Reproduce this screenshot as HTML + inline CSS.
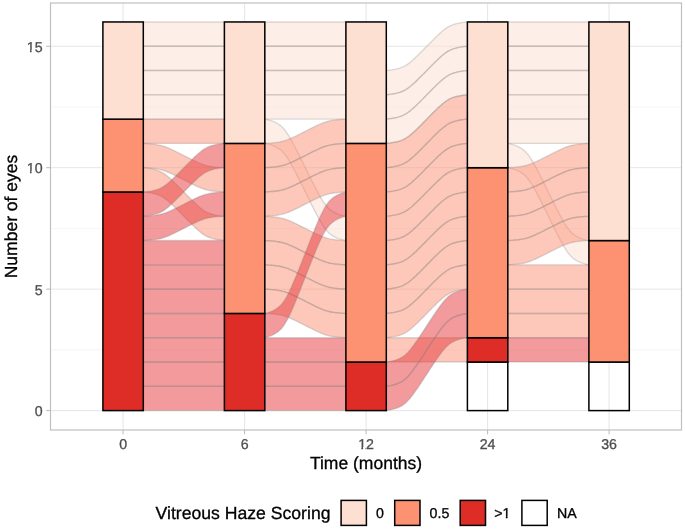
<!DOCTYPE html><html><head><meta charset="utf-8"><style>
html,body{margin:0;padding:0;background:#fff;}
svg{display:block;font-family:"Liberation Sans",sans-serif;will-change:transform;filter:blur(0.4px);}
text{stroke-width:0.3px;paint-order:stroke;text-rendering:geometricPrecision;}
</style></head><body>
<svg width="685" height="531" viewBox="0 0 685 531">
<rect width="685" height="531" fill="#fff"/>
<path d="M50.5 349.88H681.5M50.5 228.43H681.5M50.5 106.98H681.5" stroke="#EEEEEE" stroke-width="0.6" fill="none"/>
<path d="M50.5 410.60H681.5M50.5 289.15H681.5M50.5 167.70H681.5M50.5 46.25H681.5M123.10 3.0V430.0M244.60 3.0V430.0M366.10 3.0V430.0M487.60 3.0V430.0M609.10 3.0V430.0" stroke="#E3E3E3" stroke-width="0.9" fill="none"/>
<path d="M143.30 46.25H224.40V21.96H143.30Z" fill="#FEDED2" fill-opacity="0.50" stroke="#808080" stroke-opacity="0.28" stroke-width="1.40"/>
<path d="M143.30 70.54H224.40V46.25H143.30Z" fill="#FEDED2" fill-opacity="0.50" stroke="#808080" stroke-opacity="0.28" stroke-width="1.40"/>
<path d="M143.30 94.83H224.40V70.54H143.30Z" fill="#FEDED2" fill-opacity="0.50" stroke="#808080" stroke-opacity="0.28" stroke-width="1.40"/>
<path d="M143.30 119.12H224.40V94.83H143.30Z" fill="#FEDED2" fill-opacity="0.50" stroke="#808080" stroke-opacity="0.28" stroke-width="1.40"/>
<path d="M143.30 143.41H224.40V119.12H143.30Z" fill="#FB8F74" fill-opacity="0.50" stroke="#808080" stroke-opacity="0.28" stroke-width="1.40"/>
<path d="M143.30 167.70 143.31 167.70 143.39 167.70 143.60 167.71 143.97 167.73 144.54 167.76 145.31 167.80 146.27 167.86 147.39 167.93 148.64 168.02 149.96 168.13 151.34 168.26 152.72 168.40 154.08 168.55 155.41 168.73 156.69 168.92 157.93 169.13 159.11 169.36 160.26 169.61 161.38 169.89 162.49 170.19 163.58 170.53 164.69 170.90 165.81 171.30 166.95 171.75 168.13 172.23 169.35 172.75 170.61 173.31 171.92 173.92 173.27 174.56 174.68 175.23 176.13 175.94 177.62 176.68 179.14 177.45 180.70 178.24 182.27 179.04 183.85 179.85 185.43 180.65 187.00 181.45 188.56 182.24 190.08 183.01 191.57 183.75 193.02 184.46 194.43 185.13 195.78 185.77 197.09 186.38 198.35 186.94 199.57 187.46 200.75 187.94 201.89 188.39 203.01 188.79 204.12 189.16 205.21 189.50 206.32 189.80 207.44 190.08 208.59 190.33 209.77 190.56 211.01 190.77 212.29 190.96 213.62 191.14 214.98 191.29 216.36 191.43 217.74 191.56 219.06 191.67 220.31 191.76 221.43 191.83 222.39 191.89 223.16 191.93 223.73 191.96 224.10 191.98 224.31 191.99 224.39 191.99 224.40 191.99 224.40 167.70 224.39 167.70 224.31 167.70 224.10 167.69 223.73 167.67 223.16 167.64 222.39 167.60 221.43 167.54 220.31 167.47 219.06 167.38 217.74 167.27 216.36 167.14 214.98 167.00 213.62 166.85 212.29 166.67 211.01 166.48 209.77 166.27 208.59 166.04 207.44 165.79 206.32 165.51 205.21 165.21 204.12 164.87 203.01 164.50 201.89 164.10 200.75 163.65 199.57 163.17 198.35 162.65 197.09 162.09 195.78 161.48 194.43 160.84 193.02 160.17 191.57 159.46 190.08 158.72 188.56 157.95 187.00 157.16 185.43 156.36 183.85 155.56 182.27 154.75 180.70 153.95 179.14 153.16 177.62 152.39 176.13 151.65 174.68 150.94 173.27 150.27 171.92 149.63 170.61 149.02 169.35 148.46 168.13 147.94 166.95 147.46 165.81 147.01 164.69 146.61 163.58 146.24 162.49 145.90 161.38 145.60 160.26 145.32 159.11 145.07 157.93 144.84 156.69 144.63 155.41 144.44 154.08 144.26 152.72 144.11 151.34 143.97 149.96 143.84 148.64 143.73 147.39 143.64 146.27 143.57 145.31 143.51 144.54 143.47 143.97 143.44 143.60 143.42 143.39 143.41 143.31 143.41 143.30 143.41Z" fill="#FB8F74" fill-opacity="0.50" stroke="#808080" stroke-opacity="0.28" stroke-width="1.40"/>
<path d="M143.30 191.99 143.31 191.99 143.39 192.00 143.60 192.01 143.97 192.05 144.54 192.11 145.31 192.19 146.27 192.31 147.39 192.45 148.64 192.64 149.96 192.85 151.34 193.10 152.72 193.39 154.08 193.70 155.41 194.05 156.69 194.43 157.93 194.85 159.11 195.31 160.26 195.81 161.38 196.36 162.49 196.97 163.58 197.64 164.69 198.38 165.81 199.20 166.95 200.09 168.13 201.05 169.35 202.10 170.61 203.22 171.92 204.42 173.27 205.70 174.68 207.05 176.13 208.48 177.62 209.96 179.14 211.49 180.70 213.06 182.27 214.67 183.85 216.28 185.43 217.89 187.00 219.50 188.56 221.07 190.08 222.60 191.57 224.08 193.02 225.51 194.43 226.86 195.78 228.14 197.09 229.34 198.35 230.46 199.57 231.51 200.75 232.47 201.89 233.36 203.01 234.18 204.12 234.92 205.21 235.59 206.32 236.20 207.44 236.75 208.59 237.25 209.77 237.71 211.01 238.13 212.29 238.51 213.62 238.86 214.98 239.17 216.36 239.46 217.74 239.71 219.06 239.92 220.31 240.11 221.43 240.25 222.39 240.37 223.16 240.45 223.73 240.51 224.10 240.55 224.31 240.56 224.39 240.57 224.40 240.57 224.40 216.28 224.39 216.28 224.31 216.27 224.10 216.26 223.73 216.22 223.16 216.16 222.39 216.08 221.43 215.96 220.31 215.82 219.06 215.63 217.74 215.42 216.36 215.17 214.98 214.88 213.62 214.57 212.29 214.22 211.01 213.84 209.77 213.42 208.59 212.96 207.44 212.46 206.32 211.91 205.21 211.30 204.12 210.63 203.01 209.89 201.89 209.07 200.75 208.18 199.57 207.22 198.35 206.17 197.09 205.05 195.78 203.85 194.43 202.57 193.02 201.22 191.57 199.79 190.08 198.31 188.56 196.78 187.00 195.21 185.43 193.60 183.85 191.99 182.27 190.38 180.70 188.77 179.14 187.20 177.62 185.67 176.13 184.19 174.68 182.76 173.27 181.41 171.92 180.13 170.61 178.93 169.35 177.81 168.13 176.76 166.95 175.80 165.81 174.91 164.69 174.09 163.58 173.35 162.49 172.68 161.38 172.07 160.26 171.52 159.11 171.02 157.93 170.56 156.69 170.14 155.41 169.76 154.08 169.41 152.72 169.10 151.34 168.81 149.96 168.56 148.64 168.35 147.39 168.16 146.27 168.02 145.31 167.90 144.54 167.82 143.97 167.76 143.60 167.72 143.39 167.71 143.31 167.70 143.30 167.70Z" fill="#FB8F74" fill-opacity="0.50" stroke="#808080" stroke-opacity="0.28" stroke-width="1.40"/>
<path d="M143.30 216.28 143.31 216.28 143.39 216.27 143.60 216.26 143.97 216.22 144.54 216.16 145.31 216.08 146.27 215.96 147.39 215.82 148.64 215.63 149.96 215.42 151.34 215.17 152.72 214.88 154.08 214.57 155.41 214.22 156.69 213.84 157.93 213.42 159.11 212.96 160.26 212.46 161.38 211.91 162.49 211.30 163.58 210.63 164.69 209.89 165.81 209.07 166.95 208.18 168.13 207.22 169.35 206.17 170.61 205.05 171.92 203.85 173.27 202.57 174.68 201.22 176.13 199.79 177.62 198.31 179.14 196.78 180.70 195.21 182.27 193.60 183.85 191.99 185.43 190.38 187.00 188.77 188.56 187.20 190.08 185.67 191.57 184.19 193.02 182.76 194.43 181.41 195.78 180.13 197.09 178.93 198.35 177.81 199.57 176.76 200.75 175.80 201.89 174.91 203.01 174.09 204.12 173.35 205.21 172.68 206.32 172.07 207.44 171.52 208.59 171.02 209.77 170.56 211.01 170.14 212.29 169.76 213.62 169.41 214.98 169.10 216.36 168.81 217.74 168.56 219.06 168.35 220.31 168.16 221.43 168.02 222.39 167.90 223.16 167.82 223.73 167.76 224.10 167.72 224.31 167.71 224.39 167.70 224.40 167.70 224.40 143.41 224.39 143.41 224.31 143.42 224.10 143.43 223.73 143.47 223.16 143.53 222.39 143.61 221.43 143.73 220.31 143.87 219.06 144.06 217.74 144.27 216.36 144.52 214.98 144.81 213.62 145.12 212.29 145.47 211.01 145.85 209.77 146.27 208.59 146.73 207.44 147.23 206.32 147.78 205.21 148.39 204.12 149.06 203.01 149.80 201.89 150.62 200.75 151.51 199.57 152.47 198.35 153.52 197.09 154.64 195.78 155.84 194.43 157.12 193.02 158.47 191.57 159.90 190.08 161.38 188.56 162.91 187.00 164.48 185.43 166.09 183.85 167.70 182.27 169.31 180.70 170.92 179.14 172.49 177.62 174.02 176.13 175.50 174.68 176.93 173.27 178.28 171.92 179.56 170.61 180.76 169.35 181.88 168.13 182.93 166.95 183.89 165.81 184.78 164.69 185.60 163.58 186.34 162.49 187.01 161.38 187.62 160.26 188.17 159.11 188.67 157.93 189.13 156.69 189.55 155.41 189.93 154.08 190.28 152.72 190.59 151.34 190.88 149.96 191.13 148.64 191.34 147.39 191.53 146.27 191.67 145.31 191.79 144.54 191.87 143.97 191.93 143.60 191.97 143.39 191.98 143.31 191.99 143.30 191.99Z" fill="#E5363A" fill-opacity="0.50" stroke="#808080" stroke-opacity="0.28" stroke-width="1.40"/>
<path d="M143.30 240.57 143.31 240.57 143.39 240.57 143.60 240.56 143.97 240.54 144.54 240.51 145.31 240.47 146.27 240.41 147.39 240.34 148.64 240.25 149.96 240.14 151.34 240.01 152.72 239.87 154.08 239.72 155.41 239.54 156.69 239.35 157.93 239.14 159.11 238.91 160.26 238.66 161.38 238.38 162.49 238.08 163.58 237.74 164.69 237.37 165.81 236.97 166.95 236.52 168.13 236.04 169.35 235.52 170.61 234.96 171.92 234.35 173.27 233.71 174.68 233.04 176.13 232.33 177.62 231.59 179.14 230.82 180.70 230.03 182.27 229.23 183.85 228.43 185.43 227.62 187.00 226.82 188.56 226.03 190.08 225.26 191.57 224.52 193.02 223.81 194.43 223.14 195.78 222.50 197.09 221.89 198.35 221.33 199.57 220.81 200.75 220.33 201.89 219.88 203.01 219.48 204.12 219.11 205.21 218.77 206.32 218.47 207.44 218.19 208.59 217.94 209.77 217.71 211.01 217.50 212.29 217.31 213.62 217.13 214.98 216.98 216.36 216.84 217.74 216.71 219.06 216.60 220.31 216.51 221.43 216.44 222.39 216.38 223.16 216.34 223.73 216.31 224.10 216.29 224.31 216.28 224.39 216.28 224.40 216.28 224.40 191.99 224.39 191.99 224.31 191.99 224.10 192.00 223.73 192.02 223.16 192.05 222.39 192.09 221.43 192.15 220.31 192.22 219.06 192.31 217.74 192.42 216.36 192.55 214.98 192.69 213.62 192.84 212.29 193.02 211.01 193.21 209.77 193.42 208.59 193.65 207.44 193.90 206.32 194.18 205.21 194.48 204.12 194.82 203.01 195.19 201.89 195.59 200.75 196.04 199.57 196.52 198.35 197.04 197.09 197.60 195.78 198.21 194.43 198.85 193.02 199.52 191.57 200.23 190.08 200.97 188.56 201.74 187.00 202.53 185.43 203.33 183.85 204.14 182.27 204.94 180.70 205.74 179.14 206.53 177.62 207.30 176.13 208.04 174.68 208.75 173.27 209.42 171.92 210.06 170.61 210.67 169.35 211.23 168.13 211.75 166.95 212.23 165.81 212.68 164.69 213.08 163.58 213.45 162.49 213.79 161.38 214.09 160.26 214.37 159.11 214.62 157.93 214.85 156.69 215.06 155.41 215.25 154.08 215.43 152.72 215.58 151.34 215.72 149.96 215.85 148.64 215.96 147.39 216.05 146.27 216.12 145.31 216.18 144.54 216.22 143.97 216.25 143.60 216.27 143.39 216.28 143.31 216.28 143.30 216.28Z" fill="#E5363A" fill-opacity="0.50" stroke="#808080" stroke-opacity="0.28" stroke-width="1.40"/>
<path d="M143.30 264.86H224.40V240.57H143.30Z" fill="#E5363A" fill-opacity="0.50" stroke="#808080" stroke-opacity="0.28" stroke-width="1.40"/>
<path d="M143.30 289.15H224.40V264.86H143.30Z" fill="#E5363A" fill-opacity="0.50" stroke="#808080" stroke-opacity="0.28" stroke-width="1.40"/>
<path d="M143.30 313.44H224.40V289.15H143.30Z" fill="#E5363A" fill-opacity="0.50" stroke="#808080" stroke-opacity="0.28" stroke-width="1.40"/>
<path d="M143.30 337.73H224.40V313.44H143.30Z" fill="#E5363A" fill-opacity="0.50" stroke="#808080" stroke-opacity="0.28" stroke-width="1.40"/>
<path d="M143.30 362.02H224.40V337.73H143.30Z" fill="#E5363A" fill-opacity="0.50" stroke="#808080" stroke-opacity="0.28" stroke-width="1.40"/>
<path d="M143.30 386.31H224.40V362.02H143.30Z" fill="#E5363A" fill-opacity="0.50" stroke="#808080" stroke-opacity="0.28" stroke-width="1.40"/>
<path d="M143.30 410.60H224.40V386.31H143.30Z" fill="#E5363A" fill-opacity="0.50" stroke="#808080" stroke-opacity="0.28" stroke-width="1.40"/>
<path d="M264.80 46.25H345.90V21.96H264.80Z" fill="#FEDED2" fill-opacity="0.50" stroke="#808080" stroke-opacity="0.28" stroke-width="1.40"/>
<path d="M264.80 70.54H345.90V46.25H264.80Z" fill="#FEDED2" fill-opacity="0.50" stroke="#808080" stroke-opacity="0.28" stroke-width="1.40"/>
<path d="M264.80 94.83H345.90V70.54H264.80Z" fill="#FEDED2" fill-opacity="0.50" stroke="#808080" stroke-opacity="0.28" stroke-width="1.40"/>
<path d="M264.80 119.12H345.90V94.83H264.80Z" fill="#FEDED2" fill-opacity="0.50" stroke="#808080" stroke-opacity="0.28" stroke-width="1.40"/>
<path d="M264.80 143.41 264.81 143.41 264.89 143.42 265.10 143.46 265.47 143.53 266.04 143.64 266.81 143.81 267.77 144.04 268.89 144.34 270.14 144.70 271.46 145.14 272.84 145.64 274.22 146.20 275.58 146.83 276.91 147.52 278.19 148.29 279.43 149.13 280.61 150.04 281.76 151.05 282.88 152.16 283.99 153.37 285.08 154.72 286.19 156.20 287.31 157.82 288.45 159.60 289.63 161.53 290.85 163.62 292.11 165.87 293.42 168.27 294.77 170.83 296.18 173.54 297.63 176.38 299.12 179.35 300.64 182.41 302.20 185.56 303.77 188.76 305.35 191.99 306.93 195.22 308.50 198.42 310.06 201.57 311.58 204.63 313.07 207.60 314.52 210.44 315.93 213.15 317.28 215.71 318.59 218.11 319.85 220.36 321.07 222.45 322.25 224.38 323.39 226.16 324.51 227.78 325.62 229.26 326.71 230.61 327.82 231.82 328.94 232.93 330.09 233.94 331.27 234.85 332.51 235.69 333.79 236.46 335.12 237.15 336.48 237.78 337.86 238.34 339.24 238.84 340.56 239.28 341.81 239.64 342.93 239.94 343.89 240.17 344.66 240.34 345.23 240.45 345.60 240.52 345.81 240.56 345.89 240.57 345.90 240.57 345.90 216.28 345.89 216.28 345.81 216.27 345.60 216.23 345.23 216.16 344.66 216.05 343.89 215.88 342.93 215.65 341.81 215.35 340.56 214.99 339.24 214.55 337.86 214.05 336.48 213.49 335.12 212.86 333.79 212.17 332.51 211.40 331.27 210.56 330.09 209.65 328.94 208.64 327.82 207.53 326.71 206.32 325.62 204.97 324.51 203.49 323.39 201.87 322.25 200.09 321.07 198.16 319.85 196.07 318.59 193.82 317.28 191.42 315.93 188.86 314.52 186.15 313.07 183.31 311.58 180.34 310.06 177.28 308.50 174.13 306.93 170.93 305.35 167.70 303.77 164.47 302.20 161.27 300.64 158.12 299.12 155.06 297.63 152.09 296.18 149.25 294.77 146.54 293.42 143.98 292.11 141.58 290.85 139.33 289.63 137.24 288.45 135.31 287.31 133.53 286.19 131.91 285.08 130.43 283.99 129.08 282.88 127.87 281.76 126.76 280.61 125.75 279.43 124.84 278.19 124.00 276.91 123.23 275.58 122.54 274.22 121.91 272.84 121.35 271.46 120.85 270.14 120.41 268.89 120.05 267.77 119.75 266.81 119.52 266.04 119.35 265.47 119.24 265.10 119.17 264.89 119.13 264.81 119.12 264.80 119.12Z" fill="#FEDED2" fill-opacity="0.50" stroke="#808080" stroke-opacity="0.28" stroke-width="1.40"/>
<path d="M264.80 167.70 264.81 167.70 264.89 167.70 265.10 167.69 265.47 167.67 266.04 167.64 266.81 167.60 267.77 167.54 268.89 167.47 270.14 167.38 271.46 167.27 272.84 167.14 274.22 167.00 275.58 166.85 276.91 166.67 278.19 166.48 279.43 166.27 280.61 166.04 281.76 165.79 282.88 165.51 283.99 165.21 285.08 164.87 286.19 164.50 287.31 164.10 288.45 163.65 289.63 163.17 290.85 162.65 292.11 162.09 293.42 161.48 294.77 160.84 296.18 160.17 297.63 159.46 299.12 158.72 300.64 157.95 302.20 157.16 303.77 156.36 305.35 155.56 306.93 154.75 308.50 153.95 310.06 153.16 311.58 152.39 313.07 151.65 314.52 150.94 315.93 150.27 317.28 149.63 318.59 149.02 319.85 148.46 321.07 147.94 322.25 147.46 323.39 147.01 324.51 146.61 325.62 146.24 326.71 145.90 327.82 145.60 328.94 145.32 330.09 145.07 331.27 144.84 332.51 144.63 333.79 144.44 335.12 144.26 336.48 144.11 337.86 143.97 339.24 143.84 340.56 143.73 341.81 143.64 342.93 143.57 343.89 143.51 344.66 143.47 345.23 143.44 345.60 143.42 345.81 143.41 345.89 143.41 345.90 143.41 345.90 119.12 345.89 119.12 345.81 119.12 345.60 119.13 345.23 119.15 344.66 119.18 343.89 119.22 342.93 119.28 341.81 119.35 340.56 119.44 339.24 119.55 337.86 119.68 336.48 119.82 335.12 119.97 333.79 120.15 332.51 120.34 331.27 120.55 330.09 120.78 328.94 121.03 327.82 121.31 326.71 121.61 325.62 121.95 324.51 122.32 323.39 122.72 322.25 123.17 321.07 123.65 319.85 124.17 318.59 124.73 317.28 125.34 315.93 125.98 314.52 126.65 313.07 127.36 311.58 128.10 310.06 128.87 308.50 129.66 306.93 130.46 305.35 131.27 303.77 132.07 302.20 132.87 300.64 133.66 299.12 134.43 297.63 135.17 296.18 135.88 294.77 136.55 293.42 137.19 292.11 137.80 290.85 138.36 289.63 138.88 288.45 139.36 287.31 139.81 286.19 140.21 285.08 140.58 283.99 140.92 282.88 141.22 281.76 141.50 280.61 141.75 279.43 141.98 278.19 142.19 276.91 142.38 275.58 142.56 274.22 142.71 272.84 142.85 271.46 142.98 270.14 143.09 268.89 143.18 267.77 143.25 266.81 143.31 266.04 143.35 265.47 143.38 265.10 143.40 264.89 143.41 264.81 143.41 264.80 143.41Z" fill="#FB8F74" fill-opacity="0.50" stroke="#808080" stroke-opacity="0.28" stroke-width="1.40"/>
<path d="M264.80 191.99 264.81 191.99 264.89 191.99 265.10 191.98 265.47 191.96 266.04 191.93 266.81 191.89 267.77 191.83 268.89 191.76 270.14 191.67 271.46 191.56 272.84 191.43 274.22 191.29 275.58 191.14 276.91 190.96 278.19 190.77 279.43 190.56 280.61 190.33 281.76 190.08 282.88 189.80 283.99 189.50 285.08 189.16 286.19 188.79 287.31 188.39 288.45 187.94 289.63 187.46 290.85 186.94 292.11 186.38 293.42 185.77 294.77 185.13 296.18 184.46 297.63 183.75 299.12 183.01 300.64 182.24 302.20 181.45 303.77 180.65 305.35 179.85 306.93 179.04 308.50 178.24 310.06 177.45 311.58 176.68 313.07 175.94 314.52 175.23 315.93 174.56 317.28 173.92 318.59 173.31 319.85 172.75 321.07 172.23 322.25 171.75 323.39 171.30 324.51 170.90 325.62 170.53 326.71 170.19 327.82 169.89 328.94 169.61 330.09 169.36 331.27 169.13 332.51 168.92 333.79 168.73 335.12 168.55 336.48 168.40 337.86 168.26 339.24 168.13 340.56 168.02 341.81 167.93 342.93 167.86 343.89 167.80 344.66 167.76 345.23 167.73 345.60 167.71 345.81 167.70 345.89 167.70 345.90 167.70 345.90 143.41 345.89 143.41 345.81 143.41 345.60 143.42 345.23 143.44 344.66 143.47 343.89 143.51 342.93 143.57 341.81 143.64 340.56 143.73 339.24 143.84 337.86 143.97 336.48 144.11 335.12 144.26 333.79 144.44 332.51 144.63 331.27 144.84 330.09 145.07 328.94 145.32 327.82 145.60 326.71 145.90 325.62 146.24 324.51 146.61 323.39 147.01 322.25 147.46 321.07 147.94 319.85 148.46 318.59 149.02 317.28 149.63 315.93 150.27 314.52 150.94 313.07 151.65 311.58 152.39 310.06 153.16 308.50 153.95 306.93 154.75 305.35 155.56 303.77 156.36 302.20 157.16 300.64 157.95 299.12 158.72 297.63 159.46 296.18 160.17 294.77 160.84 293.42 161.48 292.11 162.09 290.85 162.65 289.63 163.17 288.45 163.65 287.31 164.10 286.19 164.50 285.08 164.87 283.99 165.21 282.88 165.51 281.76 165.79 280.61 166.04 279.43 166.27 278.19 166.48 276.91 166.67 275.58 166.85 274.22 167.00 272.84 167.14 271.46 167.27 270.14 167.38 268.89 167.47 267.77 167.54 266.81 167.60 266.04 167.64 265.47 167.67 265.10 167.69 264.89 167.70 264.81 167.70 264.80 167.70Z" fill="#FB8F74" fill-opacity="0.50" stroke="#808080" stroke-opacity="0.28" stroke-width="1.40"/>
<path d="M264.80 216.28 264.81 216.28 264.89 216.28 265.10 216.27 265.47 216.25 266.04 216.22 266.81 216.18 267.77 216.12 268.89 216.05 270.14 215.96 271.46 215.85 272.84 215.72 274.22 215.58 275.58 215.43 276.91 215.25 278.19 215.06 279.43 214.85 280.61 214.62 281.76 214.37 282.88 214.09 283.99 213.79 285.08 213.45 286.19 213.08 287.31 212.68 288.45 212.23 289.63 211.75 290.85 211.23 292.11 210.67 293.42 210.06 294.77 209.42 296.18 208.75 297.63 208.04 299.12 207.30 300.64 206.53 302.20 205.74 303.77 204.94 305.35 204.14 306.93 203.33 308.50 202.53 310.06 201.74 311.58 200.97 313.07 200.23 314.52 199.52 315.93 198.85 317.28 198.21 318.59 197.60 319.85 197.04 321.07 196.52 322.25 196.04 323.39 195.59 324.51 195.19 325.62 194.82 326.71 194.48 327.82 194.18 328.94 193.90 330.09 193.65 331.27 193.42 332.51 193.21 333.79 193.02 335.12 192.84 336.48 192.69 337.86 192.55 339.24 192.42 340.56 192.31 341.81 192.22 342.93 192.15 343.89 192.09 344.66 192.05 345.23 192.02 345.60 192.00 345.81 191.99 345.89 191.99 345.90 191.99 345.90 167.70 345.89 167.70 345.81 167.70 345.60 167.71 345.23 167.73 344.66 167.76 343.89 167.80 342.93 167.86 341.81 167.93 340.56 168.02 339.24 168.13 337.86 168.26 336.48 168.40 335.12 168.55 333.79 168.73 332.51 168.92 331.27 169.13 330.09 169.36 328.94 169.61 327.82 169.89 326.71 170.19 325.62 170.53 324.51 170.90 323.39 171.30 322.25 171.75 321.07 172.23 319.85 172.75 318.59 173.31 317.28 173.92 315.93 174.56 314.52 175.23 313.07 175.94 311.58 176.68 310.06 177.45 308.50 178.24 306.93 179.04 305.35 179.85 303.77 180.65 302.20 181.45 300.64 182.24 299.12 183.01 297.63 183.75 296.18 184.46 294.77 185.13 293.42 185.77 292.11 186.38 290.85 186.94 289.63 187.46 288.45 187.94 287.31 188.39 286.19 188.79 285.08 189.16 283.99 189.50 282.88 189.80 281.76 190.08 280.61 190.33 279.43 190.56 278.19 190.77 276.91 190.96 275.58 191.14 274.22 191.29 272.84 191.43 271.46 191.56 270.14 191.67 268.89 191.76 267.77 191.83 266.81 191.89 266.04 191.93 265.47 191.96 265.10 191.98 264.89 191.99 264.81 191.99 264.80 191.99Z" fill="#FB8F74" fill-opacity="0.50" stroke="#808080" stroke-opacity="0.28" stroke-width="1.40"/>
<path d="M264.80 240.57 264.81 240.57 264.89 240.57 265.10 240.58 265.47 240.60 266.04 240.63 266.81 240.67 267.77 240.73 268.89 240.80 270.14 240.89 271.46 241.00 272.84 241.13 274.22 241.27 275.58 241.42 276.91 241.60 278.19 241.79 279.43 242.00 280.61 242.23 281.76 242.48 282.88 242.76 283.99 243.06 285.08 243.40 286.19 243.77 287.31 244.17 288.45 244.62 289.63 245.10 290.85 245.62 292.11 246.18 293.42 246.79 294.77 247.43 296.18 248.10 297.63 248.81 299.12 249.55 300.64 250.32 302.20 251.11 303.77 251.91 305.35 252.71 306.93 253.52 308.50 254.32 310.06 255.11 311.58 255.88 313.07 256.62 314.52 257.33 315.93 258.00 317.28 258.64 318.59 259.25 319.85 259.81 321.07 260.33 322.25 260.81 323.39 261.26 324.51 261.66 325.62 262.03 326.71 262.37 327.82 262.67 328.94 262.95 330.09 263.20 331.27 263.43 332.51 263.64 333.79 263.83 335.12 264.01 336.48 264.16 337.86 264.30 339.24 264.43 340.56 264.54 341.81 264.63 342.93 264.70 343.89 264.76 344.66 264.80 345.23 264.83 345.60 264.85 345.81 264.86 345.89 264.86 345.90 264.86 345.90 240.57 345.89 240.57 345.81 240.57 345.60 240.56 345.23 240.54 344.66 240.51 343.89 240.47 342.93 240.41 341.81 240.34 340.56 240.25 339.24 240.14 337.86 240.01 336.48 239.87 335.12 239.72 333.79 239.54 332.51 239.35 331.27 239.14 330.09 238.91 328.94 238.66 327.82 238.38 326.71 238.08 325.62 237.74 324.51 237.37 323.39 236.97 322.25 236.52 321.07 236.04 319.85 235.52 318.59 234.96 317.28 234.35 315.93 233.71 314.52 233.04 313.07 232.33 311.58 231.59 310.06 230.82 308.50 230.03 306.93 229.23 305.35 228.43 303.77 227.62 302.20 226.82 300.64 226.03 299.12 225.26 297.63 224.52 296.18 223.81 294.77 223.14 293.42 222.50 292.11 221.89 290.85 221.33 289.63 220.81 288.45 220.33 287.31 219.88 286.19 219.48 285.08 219.11 283.99 218.77 282.88 218.47 281.76 218.19 280.61 217.94 279.43 217.71 278.19 217.50 276.91 217.31 275.58 217.13 274.22 216.98 272.84 216.84 271.46 216.71 270.14 216.60 268.89 216.51 267.77 216.44 266.81 216.38 266.04 216.34 265.47 216.31 265.10 216.29 264.89 216.28 264.81 216.28 264.80 216.28Z" fill="#FB8F74" fill-opacity="0.50" stroke="#808080" stroke-opacity="0.28" stroke-width="1.40"/>
<path d="M264.80 264.86 264.81 264.86 264.89 264.86 265.10 264.87 265.47 264.89 266.04 264.92 266.81 264.96 267.77 265.02 268.89 265.09 270.14 265.18 271.46 265.29 272.84 265.42 274.22 265.56 275.58 265.71 276.91 265.89 278.19 266.08 279.43 266.29 280.61 266.52 281.76 266.77 282.88 267.05 283.99 267.35 285.08 267.69 286.19 268.06 287.31 268.46 288.45 268.91 289.63 269.39 290.85 269.91 292.11 270.47 293.42 271.08 294.77 271.72 296.18 272.39 297.63 273.10 299.12 273.84 300.64 274.61 302.20 275.40 303.77 276.20 305.35 277.00 306.93 277.81 308.50 278.61 310.06 279.40 311.58 280.17 313.07 280.91 314.52 281.62 315.93 282.29 317.28 282.93 318.59 283.54 319.85 284.10 321.07 284.62 322.25 285.10 323.39 285.55 324.51 285.95 325.62 286.32 326.71 286.66 327.82 286.96 328.94 287.24 330.09 287.49 331.27 287.72 332.51 287.93 333.79 288.12 335.12 288.30 336.48 288.45 337.86 288.59 339.24 288.72 340.56 288.83 341.81 288.92 342.93 288.99 343.89 289.05 344.66 289.09 345.23 289.12 345.60 289.14 345.81 289.15 345.89 289.15 345.90 289.15 345.90 264.86 345.89 264.86 345.81 264.86 345.60 264.85 345.23 264.83 344.66 264.80 343.89 264.76 342.93 264.70 341.81 264.63 340.56 264.54 339.24 264.43 337.86 264.30 336.48 264.16 335.12 264.01 333.79 263.83 332.51 263.64 331.27 263.43 330.09 263.20 328.94 262.95 327.82 262.67 326.71 262.37 325.62 262.03 324.51 261.66 323.39 261.26 322.25 260.81 321.07 260.33 319.85 259.81 318.59 259.25 317.28 258.64 315.93 258.00 314.52 257.33 313.07 256.62 311.58 255.88 310.06 255.11 308.50 254.32 306.93 253.52 305.35 252.71 303.77 251.91 302.20 251.11 300.64 250.32 299.12 249.55 297.63 248.81 296.18 248.10 294.77 247.43 293.42 246.79 292.11 246.18 290.85 245.62 289.63 245.10 288.45 244.62 287.31 244.17 286.19 243.77 285.08 243.40 283.99 243.06 282.88 242.76 281.76 242.48 280.61 242.23 279.43 242.00 278.19 241.79 276.91 241.60 275.58 241.42 274.22 241.27 272.84 241.13 271.46 241.00 270.14 240.89 268.89 240.80 267.77 240.73 266.81 240.67 266.04 240.63 265.47 240.60 265.10 240.58 264.89 240.57 264.81 240.57 264.80 240.57Z" fill="#FB8F74" fill-opacity="0.50" stroke="#808080" stroke-opacity="0.28" stroke-width="1.40"/>
<path d="M264.80 289.15 264.81 289.15 264.89 289.15 265.10 289.16 265.47 289.18 266.04 289.21 266.81 289.25 267.77 289.31 268.89 289.38 270.14 289.47 271.46 289.58 272.84 289.71 274.22 289.85 275.58 290.00 276.91 290.18 278.19 290.37 279.43 290.58 280.61 290.81 281.76 291.06 282.88 291.34 283.99 291.64 285.08 291.98 286.19 292.35 287.31 292.75 288.45 293.20 289.63 293.68 290.85 294.20 292.11 294.76 293.42 295.37 294.77 296.01 296.18 296.68 297.63 297.39 299.12 298.13 300.64 298.90 302.20 299.69 303.77 300.49 305.35 301.30 306.93 302.10 308.50 302.90 310.06 303.69 311.58 304.46 313.07 305.20 314.52 305.91 315.93 306.58 317.28 307.22 318.59 307.83 319.85 308.39 321.07 308.91 322.25 309.39 323.39 309.84 324.51 310.24 325.62 310.61 326.71 310.95 327.82 311.25 328.94 311.53 330.09 311.78 331.27 312.01 332.51 312.22 333.79 312.41 335.12 312.59 336.48 312.74 337.86 312.88 339.24 313.01 340.56 313.12 341.81 313.21 342.93 313.28 343.89 313.34 344.66 313.38 345.23 313.41 345.60 313.43 345.81 313.44 345.89 313.44 345.90 313.44 345.90 289.15 345.89 289.15 345.81 289.15 345.60 289.14 345.23 289.12 344.66 289.09 343.89 289.05 342.93 288.99 341.81 288.92 340.56 288.83 339.24 288.72 337.86 288.59 336.48 288.45 335.12 288.30 333.79 288.12 332.51 287.93 331.27 287.72 330.09 287.49 328.94 287.24 327.82 286.96 326.71 286.66 325.62 286.32 324.51 285.95 323.39 285.55 322.25 285.10 321.07 284.62 319.85 284.10 318.59 283.54 317.28 282.93 315.93 282.29 314.52 281.62 313.07 280.91 311.58 280.17 310.06 279.40 308.50 278.61 306.93 277.81 305.35 277.00 303.77 276.20 302.20 275.40 300.64 274.61 299.12 273.84 297.63 273.10 296.18 272.39 294.77 271.72 293.42 271.08 292.11 270.47 290.85 269.91 289.63 269.39 288.45 268.91 287.31 268.46 286.19 268.06 285.08 267.69 283.99 267.35 282.88 267.05 281.76 266.77 280.61 266.52 279.43 266.29 278.19 266.08 276.91 265.89 275.58 265.71 274.22 265.56 272.84 265.42 271.46 265.29 270.14 265.18 268.89 265.09 267.77 265.02 266.81 264.96 266.04 264.92 265.47 264.89 265.10 264.87 264.89 264.86 264.81 264.86 264.80 264.86Z" fill="#FB8F74" fill-opacity="0.50" stroke="#808080" stroke-opacity="0.28" stroke-width="1.40"/>
<path d="M264.80 313.44 264.81 313.44 264.89 313.44 265.10 313.45 265.47 313.47 266.04 313.50 266.81 313.54 267.77 313.60 268.89 313.67 270.14 313.76 271.46 313.87 272.84 314.00 274.22 314.14 275.58 314.29 276.91 314.47 278.19 314.66 279.43 314.87 280.61 315.10 281.76 315.35 282.88 315.63 283.99 315.93 285.08 316.27 286.19 316.64 287.31 317.04 288.45 317.49 289.63 317.97 290.85 318.49 292.11 319.05 293.42 319.66 294.77 320.30 296.18 320.97 297.63 321.68 299.12 322.42 300.64 323.19 302.20 323.98 303.77 324.78 305.35 325.59 306.93 326.39 308.50 327.19 310.06 327.98 311.58 328.75 313.07 329.49 314.52 330.20 315.93 330.87 317.28 331.51 318.59 332.12 319.85 332.68 321.07 333.20 322.25 333.68 323.39 334.13 324.51 334.53 325.62 334.90 326.71 335.24 327.82 335.54 328.94 335.82 330.09 336.07 331.27 336.30 332.51 336.51 333.79 336.70 335.12 336.88 336.48 337.03 337.86 337.17 339.24 337.30 340.56 337.41 341.81 337.50 342.93 337.57 343.89 337.63 344.66 337.67 345.23 337.70 345.60 337.72 345.81 337.73 345.89 337.73 345.90 337.73 345.90 313.44 345.89 313.44 345.81 313.44 345.60 313.43 345.23 313.41 344.66 313.38 343.89 313.34 342.93 313.28 341.81 313.21 340.56 313.12 339.24 313.01 337.86 312.88 336.48 312.74 335.12 312.59 333.79 312.41 332.51 312.22 331.27 312.01 330.09 311.78 328.94 311.53 327.82 311.25 326.71 310.95 325.62 310.61 324.51 310.24 323.39 309.84 322.25 309.39 321.07 308.91 319.85 308.39 318.59 307.83 317.28 307.22 315.93 306.58 314.52 305.91 313.07 305.20 311.58 304.46 310.06 303.69 308.50 302.90 306.93 302.10 305.35 301.30 303.77 300.49 302.20 299.69 300.64 298.90 299.12 298.13 297.63 297.39 296.18 296.68 294.77 296.01 293.42 295.37 292.11 294.76 290.85 294.20 289.63 293.68 288.45 293.20 287.31 292.75 286.19 292.35 285.08 291.98 283.99 291.64 282.88 291.34 281.76 291.06 280.61 290.81 279.43 290.58 278.19 290.37 276.91 290.18 275.58 290.00 274.22 289.85 272.84 289.71 271.46 289.58 270.14 289.47 268.89 289.38 267.77 289.31 266.81 289.25 266.04 289.21 265.47 289.18 265.10 289.16 264.89 289.15 264.81 289.15 264.80 289.15Z" fill="#FB8F74" fill-opacity="0.50" stroke="#808080" stroke-opacity="0.28" stroke-width="1.40"/>
<path d="M264.80 337.73 264.81 337.73 264.89 337.71 265.10 337.67 265.47 337.58 266.04 337.44 266.81 337.23 267.77 336.94 268.89 336.57 270.14 336.11 271.46 335.57 272.84 334.95 274.22 334.24 275.58 333.46 276.91 332.59 278.19 331.63 279.43 330.59 280.61 329.44 281.76 328.18 282.88 326.80 283.99 325.28 285.08 323.60 286.19 321.75 287.31 319.71 288.45 317.49 289.63 315.07 290.85 312.47 292.11 309.66 293.42 306.65 294.77 303.45 296.18 300.07 297.63 296.52 299.12 292.81 300.64 288.98 302.20 285.04 303.77 281.04 305.35 277.01 306.93 272.97 308.50 268.97 310.06 265.03 311.58 261.20 313.07 257.49 314.52 253.94 315.93 250.56 317.28 247.36 318.59 244.35 319.85 241.54 321.07 238.94 322.25 236.52 323.39 234.30 324.51 232.26 325.62 230.41 326.71 228.73 327.82 227.21 328.94 225.83 330.09 224.57 331.27 223.42 332.51 222.38 333.79 221.42 335.12 220.55 336.48 219.77 337.86 219.06 339.24 218.44 340.56 217.90 341.81 217.44 342.93 217.07 343.89 216.78 344.66 216.57 345.23 216.43 345.60 216.34 345.81 216.30 345.89 216.28 345.90 216.28 345.90 191.99 345.89 191.99 345.81 192.01 345.60 192.05 345.23 192.14 344.66 192.28 343.89 192.49 342.93 192.78 341.81 193.15 340.56 193.61 339.24 194.15 337.86 194.77 336.48 195.48 335.12 196.26 333.79 197.13 332.51 198.09 331.27 199.13 330.09 200.28 328.94 201.54 327.82 202.92 326.71 204.44 325.62 206.12 324.51 207.97 323.39 210.01 322.25 212.23 321.07 214.65 319.85 217.25 318.59 220.06 317.28 223.07 315.93 226.27 314.52 229.65 313.07 233.20 311.58 236.91 310.06 240.74 308.50 244.68 306.93 248.68 305.35 252.72 303.77 256.75 302.20 260.75 300.64 264.69 299.12 268.52 297.63 272.23 296.18 275.78 294.77 279.16 293.42 282.36 292.11 285.37 290.85 288.18 289.63 290.78 288.45 293.20 287.31 295.42 286.19 297.46 285.08 299.31 283.99 300.99 282.88 302.51 281.76 303.89 280.61 305.15 279.43 306.30 278.19 307.34 276.91 308.30 275.58 309.17 274.22 309.95 272.84 310.66 271.46 311.28 270.14 311.82 268.89 312.28 267.77 312.65 266.81 312.94 266.04 313.15 265.47 313.29 265.10 313.38 264.89 313.42 264.81 313.44 264.80 313.44Z" fill="#E5363A" fill-opacity="0.50" stroke="#808080" stroke-opacity="0.28" stroke-width="1.40"/>
<path d="M264.80 362.02H345.90V337.73H264.80Z" fill="#E5363A" fill-opacity="0.50" stroke="#808080" stroke-opacity="0.28" stroke-width="1.40"/>
<path d="M264.80 386.31H345.90V362.02H264.80Z" fill="#E5363A" fill-opacity="0.50" stroke="#808080" stroke-opacity="0.28" stroke-width="1.40"/>
<path d="M264.80 410.60H345.90V386.31H264.80Z" fill="#E5363A" fill-opacity="0.50" stroke="#808080" stroke-opacity="0.28" stroke-width="1.40"/>
<path d="M386.30 94.83 386.31 94.83 386.39 94.82 386.60 94.81 386.97 94.77 387.54 94.71 388.31 94.63 389.27 94.51 390.39 94.37 391.64 94.18 392.96 93.97 394.34 93.72 395.72 93.43 397.08 93.12 398.41 92.77 399.69 92.39 400.93 91.97 402.11 91.51 403.26 91.01 404.38 90.46 405.49 89.85 406.58 89.18 407.69 88.44 408.81 87.62 409.95 86.73 411.13 85.77 412.35 84.72 413.61 83.60 414.92 82.40 416.27 81.12 417.68 79.77 419.13 78.34 420.62 76.86 422.14 75.33 423.70 73.76 425.27 72.15 426.85 70.54 428.43 68.93 430.00 67.32 431.56 65.75 433.08 64.22 434.57 62.74 436.02 61.31 437.43 59.96 438.78 58.68 440.09 57.48 441.35 56.36 442.57 55.31 443.75 54.35 444.89 53.46 446.01 52.64 447.12 51.90 448.21 51.23 449.32 50.62 450.44 50.07 451.59 49.57 452.77 49.11 454.01 48.69 455.29 48.31 456.62 47.96 457.98 47.65 459.36 47.36 460.74 47.11 462.06 46.90 463.31 46.71 464.43 46.57 465.39 46.45 466.16 46.37 466.73 46.31 467.10 46.27 467.31 46.26 467.39 46.25 467.40 46.25 467.40 21.96 467.39 21.96 467.31 21.97 467.10 21.98 466.73 22.02 466.16 22.08 465.39 22.16 464.43 22.28 463.31 22.42 462.06 22.61 460.74 22.82 459.36 23.07 457.98 23.36 456.62 23.67 455.29 24.02 454.01 24.40 452.77 24.82 451.59 25.28 450.44 25.78 449.32 26.33 448.21 26.94 447.12 27.61 446.01 28.35 444.89 29.17 443.75 30.06 442.57 31.02 441.35 32.07 440.09 33.19 438.78 34.39 437.43 35.67 436.02 37.02 434.57 38.45 433.08 39.93 431.56 41.46 430.00 43.03 428.43 44.64 426.85 46.25 425.27 47.86 423.70 49.47 422.14 51.04 420.62 52.57 419.13 54.05 417.68 55.48 416.27 56.83 414.92 58.11 413.61 59.31 412.35 60.43 411.13 61.48 409.95 62.44 408.81 63.33 407.69 64.15 406.58 64.89 405.49 65.56 404.38 66.17 403.26 66.72 402.11 67.22 400.93 67.68 399.69 68.10 398.41 68.48 397.08 68.83 395.72 69.14 394.34 69.43 392.96 69.68 391.64 69.89 390.39 70.08 389.27 70.22 388.31 70.34 387.54 70.42 386.97 70.48 386.60 70.52 386.39 70.53 386.31 70.54 386.30 70.54Z" fill="#FEDED2" fill-opacity="0.50" stroke="#808080" stroke-opacity="0.28" stroke-width="1.40"/>
<path d="M386.30 119.12 386.31 119.12 386.39 119.11 386.60 119.10 386.97 119.06 387.54 119.00 388.31 118.92 389.27 118.80 390.39 118.66 391.64 118.47 392.96 118.26 394.34 118.01 395.72 117.72 397.08 117.41 398.41 117.06 399.69 116.68 400.93 116.26 402.11 115.80 403.26 115.30 404.38 114.75 405.49 114.14 406.58 113.47 407.69 112.73 408.81 111.91 409.95 111.02 411.13 110.06 412.35 109.01 413.61 107.89 414.92 106.69 416.27 105.41 417.68 104.06 419.13 102.63 420.62 101.15 422.14 99.62 423.70 98.05 425.27 96.44 426.85 94.83 428.43 93.22 430.00 91.61 431.56 90.04 433.08 88.51 434.57 87.03 436.02 85.60 437.43 84.25 438.78 82.97 440.09 81.77 441.35 80.65 442.57 79.60 443.75 78.64 444.89 77.75 446.01 76.93 447.12 76.19 448.21 75.52 449.32 74.91 450.44 74.36 451.59 73.86 452.77 73.40 454.01 72.98 455.29 72.60 456.62 72.25 457.98 71.94 459.36 71.65 460.74 71.40 462.06 71.19 463.31 71.00 464.43 70.86 465.39 70.74 466.16 70.66 466.73 70.60 467.10 70.56 467.31 70.55 467.39 70.54 467.40 70.54 467.40 46.25 467.39 46.25 467.31 46.26 467.10 46.27 466.73 46.31 466.16 46.37 465.39 46.45 464.43 46.57 463.31 46.71 462.06 46.90 460.74 47.11 459.36 47.36 457.98 47.65 456.62 47.96 455.29 48.31 454.01 48.69 452.77 49.11 451.59 49.57 450.44 50.07 449.32 50.62 448.21 51.23 447.12 51.90 446.01 52.64 444.89 53.46 443.75 54.35 442.57 55.31 441.35 56.36 440.09 57.48 438.78 58.68 437.43 59.96 436.02 61.31 434.57 62.74 433.08 64.22 431.56 65.75 430.00 67.32 428.43 68.93 426.85 70.54 425.27 72.15 423.70 73.76 422.14 75.33 420.62 76.86 419.13 78.34 417.68 79.77 416.27 81.12 414.92 82.40 413.61 83.60 412.35 84.72 411.13 85.77 409.95 86.73 408.81 87.62 407.69 88.44 406.58 89.18 405.49 89.85 404.38 90.46 403.26 91.01 402.11 91.51 400.93 91.97 399.69 92.39 398.41 92.77 397.08 93.12 395.72 93.43 394.34 93.72 392.96 93.97 391.64 94.18 390.39 94.37 389.27 94.51 388.31 94.63 387.54 94.71 386.97 94.77 386.60 94.81 386.39 94.82 386.31 94.83 386.30 94.83Z" fill="#FEDED2" fill-opacity="0.50" stroke="#808080" stroke-opacity="0.28" stroke-width="1.40"/>
<path d="M386.30 143.41 386.31 143.41 386.39 143.40 386.60 143.39 386.97 143.35 387.54 143.29 388.31 143.21 389.27 143.09 390.39 142.95 391.64 142.76 392.96 142.55 394.34 142.30 395.72 142.01 397.08 141.70 398.41 141.35 399.69 140.97 400.93 140.55 402.11 140.09 403.26 139.59 404.38 139.04 405.49 138.43 406.58 137.76 407.69 137.02 408.81 136.20 409.95 135.31 411.13 134.35 412.35 133.30 413.61 132.18 414.92 130.98 416.27 129.70 417.68 128.35 419.13 126.92 420.62 125.44 422.14 123.91 423.70 122.34 425.27 120.73 426.85 119.12 428.43 117.51 430.00 115.90 431.56 114.33 433.08 112.80 434.57 111.32 436.02 109.89 437.43 108.54 438.78 107.26 440.09 106.06 441.35 104.94 442.57 103.89 443.75 102.93 444.89 102.04 446.01 101.22 447.12 100.48 448.21 99.81 449.32 99.20 450.44 98.65 451.59 98.15 452.77 97.69 454.01 97.27 455.29 96.89 456.62 96.54 457.98 96.23 459.36 95.94 460.74 95.69 462.06 95.48 463.31 95.29 464.43 95.15 465.39 95.03 466.16 94.95 466.73 94.89 467.10 94.85 467.31 94.84 467.39 94.83 467.40 94.83 467.40 70.54 467.39 70.54 467.31 70.55 467.10 70.56 466.73 70.60 466.16 70.66 465.39 70.74 464.43 70.86 463.31 71.00 462.06 71.19 460.74 71.40 459.36 71.65 457.98 71.94 456.62 72.25 455.29 72.60 454.01 72.98 452.77 73.40 451.59 73.86 450.44 74.36 449.32 74.91 448.21 75.52 447.12 76.19 446.01 76.93 444.89 77.75 443.75 78.64 442.57 79.60 441.35 80.65 440.09 81.77 438.78 82.97 437.43 84.25 436.02 85.60 434.57 87.03 433.08 88.51 431.56 90.04 430.00 91.61 428.43 93.22 426.85 94.83 425.27 96.44 423.70 98.05 422.14 99.62 420.62 101.15 419.13 102.63 417.68 104.06 416.27 105.41 414.92 106.69 413.61 107.89 412.35 109.01 411.13 110.06 409.95 111.02 408.81 111.91 407.69 112.73 406.58 113.47 405.49 114.14 404.38 114.75 403.26 115.30 402.11 115.80 400.93 116.26 399.69 116.68 398.41 117.06 397.08 117.41 395.72 117.72 394.34 118.01 392.96 118.26 391.64 118.47 390.39 118.66 389.27 118.80 388.31 118.92 387.54 119.00 386.97 119.06 386.60 119.10 386.39 119.11 386.31 119.12 386.30 119.12Z" fill="#FEDED2" fill-opacity="0.50" stroke="#808080" stroke-opacity="0.28" stroke-width="1.40"/>
<path d="M386.30 167.70 386.31 167.70 386.39 167.69 386.60 167.68 386.97 167.64 387.54 167.58 388.31 167.50 389.27 167.38 390.39 167.24 391.64 167.05 392.96 166.84 394.34 166.59 395.72 166.30 397.08 165.99 398.41 165.64 399.69 165.26 400.93 164.84 402.11 164.38 403.26 163.88 404.38 163.33 405.49 162.72 406.58 162.05 407.69 161.31 408.81 160.49 409.95 159.60 411.13 158.64 412.35 157.59 413.61 156.47 414.92 155.27 416.27 153.99 417.68 152.64 419.13 151.21 420.62 149.73 422.14 148.20 423.70 146.63 425.27 145.02 426.85 143.41 428.43 141.80 430.00 140.19 431.56 138.62 433.08 137.09 434.57 135.61 436.02 134.18 437.43 132.83 438.78 131.55 440.09 130.35 441.35 129.23 442.57 128.18 443.75 127.22 444.89 126.33 446.01 125.51 447.12 124.77 448.21 124.10 449.32 123.49 450.44 122.94 451.59 122.44 452.77 121.98 454.01 121.56 455.29 121.18 456.62 120.83 457.98 120.52 459.36 120.23 460.74 119.98 462.06 119.77 463.31 119.58 464.43 119.44 465.39 119.32 466.16 119.24 466.73 119.18 467.10 119.14 467.31 119.13 467.39 119.12 467.40 119.12 467.40 94.83 467.39 94.83 467.31 94.84 467.10 94.85 466.73 94.89 466.16 94.95 465.39 95.03 464.43 95.15 463.31 95.29 462.06 95.48 460.74 95.69 459.36 95.94 457.98 96.23 456.62 96.54 455.29 96.89 454.01 97.27 452.77 97.69 451.59 98.15 450.44 98.65 449.32 99.20 448.21 99.81 447.12 100.48 446.01 101.22 444.89 102.04 443.75 102.93 442.57 103.89 441.35 104.94 440.09 106.06 438.78 107.26 437.43 108.54 436.02 109.89 434.57 111.32 433.08 112.80 431.56 114.33 430.00 115.90 428.43 117.51 426.85 119.12 425.27 120.73 423.70 122.34 422.14 123.91 420.62 125.44 419.13 126.92 417.68 128.35 416.27 129.70 414.92 130.98 413.61 132.18 412.35 133.30 411.13 134.35 409.95 135.31 408.81 136.20 407.69 137.02 406.58 137.76 405.49 138.43 404.38 139.04 403.26 139.59 402.11 140.09 400.93 140.55 399.69 140.97 398.41 141.35 397.08 141.70 395.72 142.01 394.34 142.30 392.96 142.55 391.64 142.76 390.39 142.95 389.27 143.09 388.31 143.21 387.54 143.29 386.97 143.35 386.60 143.39 386.39 143.40 386.31 143.41 386.30 143.41Z" fill="#FB8F74" fill-opacity="0.50" stroke="#808080" stroke-opacity="0.28" stroke-width="1.40"/>
<path d="M386.30 191.99 386.31 191.99 386.39 191.98 386.60 191.97 386.97 191.93 387.54 191.87 388.31 191.79 389.27 191.67 390.39 191.53 391.64 191.34 392.96 191.13 394.34 190.88 395.72 190.59 397.08 190.28 398.41 189.93 399.69 189.55 400.93 189.13 402.11 188.67 403.26 188.17 404.38 187.62 405.49 187.01 406.58 186.34 407.69 185.60 408.81 184.78 409.95 183.89 411.13 182.93 412.35 181.88 413.61 180.76 414.92 179.56 416.27 178.28 417.68 176.93 419.13 175.50 420.62 174.02 422.14 172.49 423.70 170.92 425.27 169.31 426.85 167.70 428.43 166.09 430.00 164.48 431.56 162.91 433.08 161.38 434.57 159.90 436.02 158.47 437.43 157.12 438.78 155.84 440.09 154.64 441.35 153.52 442.57 152.47 443.75 151.51 444.89 150.62 446.01 149.80 447.12 149.06 448.21 148.39 449.32 147.78 450.44 147.23 451.59 146.73 452.77 146.27 454.01 145.85 455.29 145.47 456.62 145.12 457.98 144.81 459.36 144.52 460.74 144.27 462.06 144.06 463.31 143.87 464.43 143.73 465.39 143.61 466.16 143.53 466.73 143.47 467.10 143.43 467.31 143.42 467.39 143.41 467.40 143.41 467.40 119.12 467.39 119.12 467.31 119.13 467.10 119.14 466.73 119.18 466.16 119.24 465.39 119.32 464.43 119.44 463.31 119.58 462.06 119.77 460.74 119.98 459.36 120.23 457.98 120.52 456.62 120.83 455.29 121.18 454.01 121.56 452.77 121.98 451.59 122.44 450.44 122.94 449.32 123.49 448.21 124.10 447.12 124.77 446.01 125.51 444.89 126.33 443.75 127.22 442.57 128.18 441.35 129.23 440.09 130.35 438.78 131.55 437.43 132.83 436.02 134.18 434.57 135.61 433.08 137.09 431.56 138.62 430.00 140.19 428.43 141.80 426.85 143.41 425.27 145.02 423.70 146.63 422.14 148.20 420.62 149.73 419.13 151.21 417.68 152.64 416.27 153.99 414.92 155.27 413.61 156.47 412.35 157.59 411.13 158.64 409.95 159.60 408.81 160.49 407.69 161.31 406.58 162.05 405.49 162.72 404.38 163.33 403.26 163.88 402.11 164.38 400.93 164.84 399.69 165.26 398.41 165.64 397.08 165.99 395.72 166.30 394.34 166.59 392.96 166.84 391.64 167.05 390.39 167.24 389.27 167.38 388.31 167.50 387.54 167.58 386.97 167.64 386.60 167.68 386.39 167.69 386.31 167.70 386.30 167.70Z" fill="#FB8F74" fill-opacity="0.50" stroke="#808080" stroke-opacity="0.28" stroke-width="1.40"/>
<path d="M386.30 216.28 386.31 216.28 386.39 216.27 386.60 216.26 386.97 216.22 387.54 216.16 388.31 216.08 389.27 215.96 390.39 215.82 391.64 215.63 392.96 215.42 394.34 215.17 395.72 214.88 397.08 214.57 398.41 214.22 399.69 213.84 400.93 213.42 402.11 212.96 403.26 212.46 404.38 211.91 405.49 211.30 406.58 210.63 407.69 209.89 408.81 209.07 409.95 208.18 411.13 207.22 412.35 206.17 413.61 205.05 414.92 203.85 416.27 202.57 417.68 201.22 419.13 199.79 420.62 198.31 422.14 196.78 423.70 195.21 425.27 193.60 426.85 191.99 428.43 190.38 430.00 188.77 431.56 187.20 433.08 185.67 434.57 184.19 436.02 182.76 437.43 181.41 438.78 180.13 440.09 178.93 441.35 177.81 442.57 176.76 443.75 175.80 444.89 174.91 446.01 174.09 447.12 173.35 448.21 172.68 449.32 172.07 450.44 171.52 451.59 171.02 452.77 170.56 454.01 170.14 455.29 169.76 456.62 169.41 457.98 169.10 459.36 168.81 460.74 168.56 462.06 168.35 463.31 168.16 464.43 168.02 465.39 167.90 466.16 167.82 466.73 167.76 467.10 167.72 467.31 167.71 467.39 167.70 467.40 167.70 467.40 143.41 467.39 143.41 467.31 143.42 467.10 143.43 466.73 143.47 466.16 143.53 465.39 143.61 464.43 143.73 463.31 143.87 462.06 144.06 460.74 144.27 459.36 144.52 457.98 144.81 456.62 145.12 455.29 145.47 454.01 145.85 452.77 146.27 451.59 146.73 450.44 147.23 449.32 147.78 448.21 148.39 447.12 149.06 446.01 149.80 444.89 150.62 443.75 151.51 442.57 152.47 441.35 153.52 440.09 154.64 438.78 155.84 437.43 157.12 436.02 158.47 434.57 159.90 433.08 161.38 431.56 162.91 430.00 164.48 428.43 166.09 426.85 167.70 425.27 169.31 423.70 170.92 422.14 172.49 420.62 174.02 419.13 175.50 417.68 176.93 416.27 178.28 414.92 179.56 413.61 180.76 412.35 181.88 411.13 182.93 409.95 183.89 408.81 184.78 407.69 185.60 406.58 186.34 405.49 187.01 404.38 187.62 403.26 188.17 402.11 188.67 400.93 189.13 399.69 189.55 398.41 189.93 397.08 190.28 395.72 190.59 394.34 190.88 392.96 191.13 391.64 191.34 390.39 191.53 389.27 191.67 388.31 191.79 387.54 191.87 386.97 191.93 386.60 191.97 386.39 191.98 386.31 191.99 386.30 191.99Z" fill="#FB8F74" fill-opacity="0.50" stroke="#808080" stroke-opacity="0.28" stroke-width="1.40"/>
<path d="M386.30 240.57 386.31 240.57 386.39 240.56 386.60 240.55 386.97 240.51 387.54 240.45 388.31 240.37 389.27 240.25 390.39 240.11 391.64 239.92 392.96 239.71 394.34 239.46 395.72 239.17 397.08 238.86 398.41 238.51 399.69 238.13 400.93 237.71 402.11 237.25 403.26 236.75 404.38 236.20 405.49 235.59 406.58 234.92 407.69 234.18 408.81 233.36 409.95 232.47 411.13 231.51 412.35 230.46 413.61 229.34 414.92 228.14 416.27 226.86 417.68 225.51 419.13 224.08 420.62 222.60 422.14 221.07 423.70 219.50 425.27 217.89 426.85 216.28 428.43 214.67 430.00 213.06 431.56 211.49 433.08 209.96 434.57 208.48 436.02 207.05 437.43 205.70 438.78 204.42 440.09 203.22 441.35 202.10 442.57 201.05 443.75 200.09 444.89 199.20 446.01 198.38 447.12 197.64 448.21 196.97 449.32 196.36 450.44 195.81 451.59 195.31 452.77 194.85 454.01 194.43 455.29 194.05 456.62 193.70 457.98 193.39 459.36 193.10 460.74 192.85 462.06 192.64 463.31 192.45 464.43 192.31 465.39 192.19 466.16 192.11 466.73 192.05 467.10 192.01 467.31 192.00 467.39 191.99 467.40 191.99 467.40 167.70 467.39 167.70 467.31 167.71 467.10 167.72 466.73 167.76 466.16 167.82 465.39 167.90 464.43 168.02 463.31 168.16 462.06 168.35 460.74 168.56 459.36 168.81 457.98 169.10 456.62 169.41 455.29 169.76 454.01 170.14 452.77 170.56 451.59 171.02 450.44 171.52 449.32 172.07 448.21 172.68 447.12 173.35 446.01 174.09 444.89 174.91 443.75 175.80 442.57 176.76 441.35 177.81 440.09 178.93 438.78 180.13 437.43 181.41 436.02 182.76 434.57 184.19 433.08 185.67 431.56 187.20 430.00 188.77 428.43 190.38 426.85 191.99 425.27 193.60 423.70 195.21 422.14 196.78 420.62 198.31 419.13 199.79 417.68 201.22 416.27 202.57 414.92 203.85 413.61 205.05 412.35 206.17 411.13 207.22 409.95 208.18 408.81 209.07 407.69 209.89 406.58 210.63 405.49 211.30 404.38 211.91 403.26 212.46 402.11 212.96 400.93 213.42 399.69 213.84 398.41 214.22 397.08 214.57 395.72 214.88 394.34 215.17 392.96 215.42 391.64 215.63 390.39 215.82 389.27 215.96 388.31 216.08 387.54 216.16 386.97 216.22 386.60 216.26 386.39 216.27 386.31 216.28 386.30 216.28Z" fill="#FB8F74" fill-opacity="0.50" stroke="#808080" stroke-opacity="0.28" stroke-width="1.40"/>
<path d="M386.30 264.86 386.31 264.86 386.39 264.85 386.60 264.84 386.97 264.80 387.54 264.74 388.31 264.66 389.27 264.54 390.39 264.40 391.64 264.21 392.96 264.00 394.34 263.75 395.72 263.46 397.08 263.15 398.41 262.80 399.69 262.42 400.93 262.00 402.11 261.54 403.26 261.04 404.38 260.49 405.49 259.88 406.58 259.21 407.69 258.47 408.81 257.65 409.95 256.76 411.13 255.80 412.35 254.75 413.61 253.63 414.92 252.43 416.27 251.15 417.68 249.80 419.13 248.37 420.62 246.89 422.14 245.36 423.70 243.79 425.27 242.18 426.85 240.57 428.43 238.96 430.00 237.35 431.56 235.78 433.08 234.25 434.57 232.77 436.02 231.34 437.43 229.99 438.78 228.71 440.09 227.51 441.35 226.39 442.57 225.34 443.75 224.38 444.89 223.49 446.01 222.67 447.12 221.93 448.21 221.26 449.32 220.65 450.44 220.10 451.59 219.60 452.77 219.14 454.01 218.72 455.29 218.34 456.62 217.99 457.98 217.68 459.36 217.39 460.74 217.14 462.06 216.93 463.31 216.74 464.43 216.60 465.39 216.48 466.16 216.40 466.73 216.34 467.10 216.30 467.31 216.29 467.39 216.28 467.40 216.28 467.40 191.99 467.39 191.99 467.31 192.00 467.10 192.01 466.73 192.05 466.16 192.11 465.39 192.19 464.43 192.31 463.31 192.45 462.06 192.64 460.74 192.85 459.36 193.10 457.98 193.39 456.62 193.70 455.29 194.05 454.01 194.43 452.77 194.85 451.59 195.31 450.44 195.81 449.32 196.36 448.21 196.97 447.12 197.64 446.01 198.38 444.89 199.20 443.75 200.09 442.57 201.05 441.35 202.10 440.09 203.22 438.78 204.42 437.43 205.70 436.02 207.05 434.57 208.48 433.08 209.96 431.56 211.49 430.00 213.06 428.43 214.67 426.85 216.28 425.27 217.89 423.70 219.50 422.14 221.07 420.62 222.60 419.13 224.08 417.68 225.51 416.27 226.86 414.92 228.14 413.61 229.34 412.35 230.46 411.13 231.51 409.95 232.47 408.81 233.36 407.69 234.18 406.58 234.92 405.49 235.59 404.38 236.20 403.26 236.75 402.11 237.25 400.93 237.71 399.69 238.13 398.41 238.51 397.08 238.86 395.72 239.17 394.34 239.46 392.96 239.71 391.64 239.92 390.39 240.11 389.27 240.25 388.31 240.37 387.54 240.45 386.97 240.51 386.60 240.55 386.39 240.56 386.31 240.57 386.30 240.57Z" fill="#FB8F74" fill-opacity="0.50" stroke="#808080" stroke-opacity="0.28" stroke-width="1.40"/>
<path d="M386.30 289.15 386.31 289.15 386.39 289.14 386.60 289.13 386.97 289.09 387.54 289.03 388.31 288.95 389.27 288.83 390.39 288.69 391.64 288.50 392.96 288.29 394.34 288.04 395.72 287.75 397.08 287.44 398.41 287.09 399.69 286.71 400.93 286.29 402.11 285.83 403.26 285.33 404.38 284.78 405.49 284.17 406.58 283.50 407.69 282.76 408.81 281.94 409.95 281.05 411.13 280.09 412.35 279.04 413.61 277.92 414.92 276.72 416.27 275.44 417.68 274.09 419.13 272.66 420.62 271.18 422.14 269.65 423.70 268.08 425.27 266.47 426.85 264.86 428.43 263.25 430.00 261.64 431.56 260.07 433.08 258.54 434.57 257.06 436.02 255.63 437.43 254.28 438.78 253.00 440.09 251.80 441.35 250.68 442.57 249.63 443.75 248.67 444.89 247.78 446.01 246.96 447.12 246.22 448.21 245.55 449.32 244.94 450.44 244.39 451.59 243.89 452.77 243.43 454.01 243.01 455.29 242.63 456.62 242.28 457.98 241.97 459.36 241.68 460.74 241.43 462.06 241.22 463.31 241.03 464.43 240.89 465.39 240.77 466.16 240.69 466.73 240.63 467.10 240.59 467.31 240.58 467.39 240.57 467.40 240.57 467.40 216.28 467.39 216.28 467.31 216.29 467.10 216.30 466.73 216.34 466.16 216.40 465.39 216.48 464.43 216.60 463.31 216.74 462.06 216.93 460.74 217.14 459.36 217.39 457.98 217.68 456.62 217.99 455.29 218.34 454.01 218.72 452.77 219.14 451.59 219.60 450.44 220.10 449.32 220.65 448.21 221.26 447.12 221.93 446.01 222.67 444.89 223.49 443.75 224.38 442.57 225.34 441.35 226.39 440.09 227.51 438.78 228.71 437.43 229.99 436.02 231.34 434.57 232.77 433.08 234.25 431.56 235.78 430.00 237.35 428.43 238.96 426.85 240.57 425.27 242.18 423.70 243.79 422.14 245.36 420.62 246.89 419.13 248.37 417.68 249.80 416.27 251.15 414.92 252.43 413.61 253.63 412.35 254.75 411.13 255.80 409.95 256.76 408.81 257.65 407.69 258.47 406.58 259.21 405.49 259.88 404.38 260.49 403.26 261.04 402.11 261.54 400.93 262.00 399.69 262.42 398.41 262.80 397.08 263.15 395.72 263.46 394.34 263.75 392.96 264.00 391.64 264.21 390.39 264.40 389.27 264.54 388.31 264.66 387.54 264.74 386.97 264.80 386.60 264.84 386.39 264.85 386.31 264.86 386.30 264.86Z" fill="#FB8F74" fill-opacity="0.50" stroke="#808080" stroke-opacity="0.28" stroke-width="1.40"/>
<path d="M386.30 313.44 386.31 313.44 386.39 313.43 386.60 313.42 386.97 313.38 387.54 313.32 388.31 313.24 389.27 313.12 390.39 312.98 391.64 312.79 392.96 312.58 394.34 312.33 395.72 312.04 397.08 311.73 398.41 311.38 399.69 311.00 400.93 310.58 402.11 310.12 403.26 309.62 404.38 309.07 405.49 308.46 406.58 307.79 407.69 307.05 408.81 306.23 409.95 305.34 411.13 304.38 412.35 303.33 413.61 302.21 414.92 301.01 416.27 299.73 417.68 298.38 419.13 296.95 420.62 295.47 422.14 293.94 423.70 292.37 425.27 290.76 426.85 289.15 428.43 287.54 430.00 285.93 431.56 284.36 433.08 282.83 434.57 281.35 436.02 279.92 437.43 278.57 438.78 277.29 440.09 276.09 441.35 274.97 442.57 273.92 443.75 272.96 444.89 272.07 446.01 271.25 447.12 270.51 448.21 269.84 449.32 269.23 450.44 268.68 451.59 268.18 452.77 267.72 454.01 267.30 455.29 266.92 456.62 266.57 457.98 266.26 459.36 265.97 460.74 265.72 462.06 265.51 463.31 265.32 464.43 265.18 465.39 265.06 466.16 264.98 466.73 264.92 467.10 264.88 467.31 264.87 467.39 264.86 467.40 264.86 467.40 240.57 467.39 240.57 467.31 240.58 467.10 240.59 466.73 240.63 466.16 240.69 465.39 240.77 464.43 240.89 463.31 241.03 462.06 241.22 460.74 241.43 459.36 241.68 457.98 241.97 456.62 242.28 455.29 242.63 454.01 243.01 452.77 243.43 451.59 243.89 450.44 244.39 449.32 244.94 448.21 245.55 447.12 246.22 446.01 246.96 444.89 247.78 443.75 248.67 442.57 249.63 441.35 250.68 440.09 251.80 438.78 253.00 437.43 254.28 436.02 255.63 434.57 257.06 433.08 258.54 431.56 260.07 430.00 261.64 428.43 263.25 426.85 264.86 425.27 266.47 423.70 268.08 422.14 269.65 420.62 271.18 419.13 272.66 417.68 274.09 416.27 275.44 414.92 276.72 413.61 277.92 412.35 279.04 411.13 280.09 409.95 281.05 408.81 281.94 407.69 282.76 406.58 283.50 405.49 284.17 404.38 284.78 403.26 285.33 402.11 285.83 400.93 286.29 399.69 286.71 398.41 287.09 397.08 287.44 395.72 287.75 394.34 288.04 392.96 288.29 391.64 288.50 390.39 288.69 389.27 288.83 388.31 288.95 387.54 289.03 386.97 289.09 386.60 289.13 386.39 289.14 386.31 289.15 386.30 289.15Z" fill="#FB8F74" fill-opacity="0.50" stroke="#808080" stroke-opacity="0.28" stroke-width="1.40"/>
<path d="M386.30 337.73 386.31 337.73 386.39 337.72 386.60 337.71 386.97 337.67 387.54 337.61 388.31 337.53 389.27 337.41 390.39 337.27 391.64 337.08 392.96 336.87 394.34 336.62 395.72 336.33 397.08 336.02 398.41 335.67 399.69 335.29 400.93 334.87 402.11 334.41 403.26 333.91 404.38 333.36 405.49 332.75 406.58 332.08 407.69 331.34 408.81 330.52 409.95 329.63 411.13 328.67 412.35 327.62 413.61 326.50 414.92 325.30 416.27 324.02 417.68 322.67 419.13 321.24 420.62 319.76 422.14 318.23 423.70 316.66 425.27 315.05 426.85 313.44 428.43 311.83 430.00 310.22 431.56 308.65 433.08 307.12 434.57 305.64 436.02 304.21 437.43 302.86 438.78 301.58 440.09 300.38 441.35 299.26 442.57 298.21 443.75 297.25 444.89 296.36 446.01 295.54 447.12 294.80 448.21 294.13 449.32 293.52 450.44 292.97 451.59 292.47 452.77 292.01 454.01 291.59 455.29 291.21 456.62 290.86 457.98 290.55 459.36 290.26 460.74 290.01 462.06 289.80 463.31 289.61 464.43 289.47 465.39 289.35 466.16 289.27 466.73 289.21 467.10 289.17 467.31 289.16 467.39 289.15 467.40 289.15 467.40 264.86 467.39 264.86 467.31 264.87 467.10 264.88 466.73 264.92 466.16 264.98 465.39 265.06 464.43 265.18 463.31 265.32 462.06 265.51 460.74 265.72 459.36 265.97 457.98 266.26 456.62 266.57 455.29 266.92 454.01 267.30 452.77 267.72 451.59 268.18 450.44 268.68 449.32 269.23 448.21 269.84 447.12 270.51 446.01 271.25 444.89 272.07 443.75 272.96 442.57 273.92 441.35 274.97 440.09 276.09 438.78 277.29 437.43 278.57 436.02 279.92 434.57 281.35 433.08 282.83 431.56 284.36 430.00 285.93 428.43 287.54 426.85 289.15 425.27 290.76 423.70 292.37 422.14 293.94 420.62 295.47 419.13 296.95 417.68 298.38 416.27 299.73 414.92 301.01 413.61 302.21 412.35 303.33 411.13 304.38 409.95 305.34 408.81 306.23 407.69 307.05 406.58 307.79 405.49 308.46 404.38 309.07 403.26 309.62 402.11 310.12 400.93 310.58 399.69 311.00 398.41 311.38 397.08 311.73 395.72 312.04 394.34 312.33 392.96 312.58 391.64 312.79 390.39 312.98 389.27 313.12 388.31 313.24 387.54 313.32 386.97 313.38 386.60 313.42 386.39 313.43 386.31 313.44 386.30 313.44Z" fill="#FB8F74" fill-opacity="0.50" stroke="#808080" stroke-opacity="0.28" stroke-width="1.40"/>
<path d="M386.30 362.02H467.40V337.73H386.30Z" fill="#FB8F74" fill-opacity="0.50" stroke="#808080" stroke-opacity="0.28" stroke-width="1.40"/>
<path d="M386.30 386.31 386.31 386.31 386.39 386.30 386.60 386.27 386.97 386.22 387.54 386.14 388.31 386.01 389.27 385.84 390.39 385.61 391.64 385.34 392.96 385.02 394.34 384.64 395.72 384.22 397.08 383.75 398.41 383.22 399.69 382.65 400.93 382.02 402.11 381.34 403.26 380.58 404.38 379.75 405.49 378.84 406.58 377.83 407.69 376.72 408.81 375.50 409.95 374.16 411.13 372.72 412.35 371.15 413.61 369.47 414.92 367.66 416.27 365.74 417.68 363.71 419.13 361.58 420.62 359.36 422.14 357.06 423.70 354.70 425.27 352.30 426.85 349.88 428.43 347.45 430.00 345.05 431.56 342.69 433.08 340.39 434.57 338.17 436.02 336.04 437.43 334.01 438.78 332.09 440.09 330.28 441.35 328.60 442.57 327.03 443.75 325.59 444.89 324.25 446.01 323.03 447.12 321.92 448.21 320.91 449.32 320.00 450.44 319.17 451.59 318.41 452.77 317.73 454.01 317.10 455.29 316.53 456.62 316.00 457.98 315.53 459.36 315.11 460.74 314.73 462.06 314.41 463.31 314.14 464.43 313.91 465.39 313.74 466.16 313.61 466.73 313.53 467.10 313.48 467.31 313.45 467.39 313.44 467.40 313.44 467.40 289.15 467.39 289.15 467.31 289.16 467.10 289.19 466.73 289.24 466.16 289.32 465.39 289.45 464.43 289.62 463.31 289.85 462.06 290.12 460.74 290.44 459.36 290.82 457.98 291.24 456.62 291.71 455.29 292.24 454.01 292.81 452.77 293.44 451.59 294.12 450.44 294.88 449.32 295.71 448.21 296.62 447.12 297.63 446.01 298.74 444.89 299.96 443.75 301.30 442.57 302.74 441.35 304.31 440.09 305.99 438.78 307.80 437.43 309.72 436.02 311.75 434.57 313.88 433.08 316.10 431.56 318.40 430.00 320.76 428.43 323.16 426.85 325.59 425.27 328.01 423.70 330.41 422.14 332.77 420.62 335.07 419.13 337.29 417.68 339.42 416.27 341.45 414.92 343.37 413.61 345.18 412.35 346.86 411.13 348.43 409.95 349.88 408.81 351.21 407.69 352.43 406.58 353.54 405.49 354.55 404.38 355.46 403.26 356.29 402.11 357.05 400.93 357.73 399.69 358.36 398.41 358.93 397.08 359.46 395.72 359.93 394.34 360.35 392.96 360.73 391.64 361.05 390.39 361.32 389.27 361.55 388.31 361.72 387.54 361.85 386.97 361.93 386.60 361.98 386.39 362.01 386.31 362.02 386.30 362.02Z" fill="#E5363A" fill-opacity="0.50" stroke="#808080" stroke-opacity="0.28" stroke-width="1.40"/>
<path d="M386.30 410.60 386.31 410.60 386.39 410.59 386.60 410.56 386.97 410.51 387.54 410.43 388.31 410.30 389.27 410.13 390.39 409.90 391.64 409.63 392.96 409.31 394.34 408.93 395.72 408.51 397.08 408.04 398.41 407.51 399.69 406.94 400.93 406.31 402.11 405.63 403.26 404.87 404.38 404.04 405.49 403.13 406.58 402.12 407.69 401.01 408.81 399.79 409.95 398.45 411.13 397.01 412.35 395.44 413.61 393.76 414.92 391.95 416.27 390.03 417.68 388.00 419.13 385.87 420.62 383.65 422.14 381.35 423.70 378.99 425.27 376.59 426.85 374.17 428.43 371.74 430.00 369.34 431.56 366.98 433.08 364.68 434.57 362.46 436.02 360.33 437.43 358.30 438.78 356.38 440.09 354.57 441.35 352.89 442.57 351.32 443.75 349.88 444.89 348.54 446.01 347.32 447.12 346.21 448.21 345.20 449.32 344.29 450.44 343.46 451.59 342.70 452.77 342.02 454.01 341.39 455.29 340.82 456.62 340.29 457.98 339.82 459.36 339.40 460.74 339.02 462.06 338.70 463.31 338.43 464.43 338.20 465.39 338.03 466.16 337.90 466.73 337.82 467.10 337.77 467.31 337.74 467.39 337.73 467.40 337.73 467.40 313.44 467.39 313.44 467.31 313.45 467.10 313.48 466.73 313.53 466.16 313.61 465.39 313.74 464.43 313.91 463.31 314.14 462.06 314.41 460.74 314.73 459.36 315.11 457.98 315.53 456.62 316.00 455.29 316.53 454.01 317.10 452.77 317.73 451.59 318.41 450.44 319.17 449.32 320.00 448.21 320.91 447.12 321.92 446.01 323.03 444.89 324.25 443.75 325.59 442.57 327.03 441.35 328.60 440.09 330.28 438.78 332.09 437.43 334.01 436.02 336.04 434.57 338.17 433.08 340.39 431.56 342.69 430.00 345.05 428.43 347.45 426.85 349.88 425.27 352.30 423.70 354.70 422.14 357.06 420.62 359.36 419.13 361.58 417.68 363.71 416.27 365.74 414.92 367.66 413.61 369.47 412.35 371.15 411.13 372.72 409.95 374.17 408.81 375.50 407.69 376.72 406.58 377.83 405.49 378.84 404.38 379.75 403.26 380.58 402.11 381.34 400.93 382.02 399.69 382.65 398.41 383.22 397.08 383.75 395.72 384.22 394.34 384.64 392.96 385.02 391.64 385.34 390.39 385.61 389.27 385.84 388.31 386.01 387.54 386.14 386.97 386.22 386.60 386.27 386.39 386.30 386.31 386.31 386.30 386.31Z" fill="#E5363A" fill-opacity="0.50" stroke="#808080" stroke-opacity="0.28" stroke-width="1.40"/>
<path d="M507.80 46.25H588.90V21.96H507.80Z" fill="#FEDED2" fill-opacity="0.50" stroke="#808080" stroke-opacity="0.28" stroke-width="1.40"/>
<path d="M507.80 70.54H588.90V46.25H507.80Z" fill="#FEDED2" fill-opacity="0.50" stroke="#808080" stroke-opacity="0.28" stroke-width="1.40"/>
<path d="M507.80 94.83H588.90V70.54H507.80Z" fill="#FEDED2" fill-opacity="0.50" stroke="#808080" stroke-opacity="0.28" stroke-width="1.40"/>
<path d="M507.80 119.12H588.90V94.83H507.80Z" fill="#FEDED2" fill-opacity="0.50" stroke="#808080" stroke-opacity="0.28" stroke-width="1.40"/>
<path d="M507.80 143.41H588.90V119.12H507.80Z" fill="#FEDED2" fill-opacity="0.50" stroke="#808080" stroke-opacity="0.28" stroke-width="1.40"/>
<path d="M507.80 167.70 507.81 167.70 507.89 167.71 508.10 167.75 508.47 167.82 509.04 167.93 509.81 168.10 510.77 168.33 511.89 168.63 513.14 168.99 514.46 169.43 515.84 169.93 517.22 170.49 518.58 171.12 519.91 171.81 521.19 172.58 522.43 173.42 523.61 174.33 524.76 175.34 525.88 176.45 526.99 177.66 528.08 179.01 529.19 180.49 530.31 182.11 531.45 183.89 532.63 185.82 533.85 187.91 535.11 190.16 536.42 192.56 537.77 195.12 539.18 197.83 540.63 200.67 542.12 203.64 543.64 206.70 545.20 209.85 546.77 213.05 548.35 216.28 549.93 219.51 551.50 222.71 553.06 225.86 554.58 228.92 556.07 231.89 557.52 234.73 558.93 237.44 560.28 240.00 561.59 242.40 562.85 244.65 564.07 246.74 565.25 248.67 566.39 250.45 567.51 252.07 568.62 253.55 569.71 254.90 570.82 256.11 571.94 257.22 573.09 258.23 574.27 259.14 575.51 259.98 576.79 260.75 578.12 261.44 579.48 262.07 580.86 262.63 582.24 263.13 583.56 263.57 584.81 263.93 585.93 264.23 586.89 264.46 587.66 264.63 588.23 264.74 588.60 264.81 588.81 264.85 588.89 264.86 588.90 264.86 588.90 240.57 588.89 240.57 588.81 240.56 588.60 240.52 588.23 240.45 587.66 240.34 586.89 240.17 585.93 239.94 584.81 239.64 583.56 239.28 582.24 238.84 580.86 238.34 579.48 237.78 578.12 237.15 576.79 236.46 575.51 235.69 574.27 234.85 573.09 233.94 571.94 232.93 570.82 231.82 569.71 230.61 568.62 229.26 567.51 227.78 566.39 226.16 565.25 224.38 564.07 222.45 562.85 220.36 561.59 218.11 560.28 215.71 558.93 213.15 557.52 210.44 556.07 207.60 554.58 204.63 553.06 201.57 551.50 198.42 549.93 195.22 548.35 191.99 546.77 188.76 545.20 185.56 543.64 182.41 542.12 179.35 540.63 176.38 539.18 173.54 537.77 170.83 536.42 168.27 535.11 165.87 533.85 163.62 532.63 161.53 531.45 159.60 530.31 157.82 529.19 156.20 528.08 154.72 526.99 153.37 525.88 152.16 524.76 151.05 523.61 150.04 522.43 149.13 521.19 148.29 519.91 147.52 518.58 146.83 517.22 146.20 515.84 145.64 514.46 145.14 513.14 144.70 511.89 144.34 510.77 144.04 509.81 143.81 509.04 143.64 508.47 143.53 508.10 143.46 507.89 143.42 507.81 143.41 507.80 143.41Z" fill="#FEDED2" fill-opacity="0.50" stroke="#808080" stroke-opacity="0.28" stroke-width="1.40"/>
<path d="M507.80 191.99 507.81 191.99 507.89 191.99 508.10 191.98 508.47 191.96 509.04 191.93 509.81 191.89 510.77 191.83 511.89 191.76 513.14 191.67 514.46 191.56 515.84 191.43 517.22 191.29 518.58 191.14 519.91 190.96 521.19 190.77 522.43 190.56 523.61 190.33 524.76 190.08 525.88 189.80 526.99 189.50 528.08 189.16 529.19 188.79 530.31 188.39 531.45 187.94 532.63 187.46 533.85 186.94 535.11 186.38 536.42 185.77 537.77 185.13 539.18 184.46 540.63 183.75 542.12 183.01 543.64 182.24 545.20 181.45 546.77 180.65 548.35 179.85 549.93 179.04 551.50 178.24 553.06 177.45 554.58 176.68 556.07 175.94 557.52 175.23 558.93 174.56 560.28 173.92 561.59 173.31 562.85 172.75 564.07 172.23 565.25 171.75 566.39 171.30 567.51 170.90 568.62 170.53 569.71 170.19 570.82 169.89 571.94 169.61 573.09 169.36 574.27 169.13 575.51 168.92 576.79 168.73 578.12 168.55 579.48 168.40 580.86 168.26 582.24 168.13 583.56 168.02 584.81 167.93 585.93 167.86 586.89 167.80 587.66 167.76 588.23 167.73 588.60 167.71 588.81 167.70 588.89 167.70 588.90 167.70 588.90 143.41 588.89 143.41 588.81 143.41 588.60 143.42 588.23 143.44 587.66 143.47 586.89 143.51 585.93 143.57 584.81 143.64 583.56 143.73 582.24 143.84 580.86 143.97 579.48 144.11 578.12 144.26 576.79 144.44 575.51 144.63 574.27 144.84 573.09 145.07 571.94 145.32 570.82 145.60 569.71 145.90 568.62 146.24 567.51 146.61 566.39 147.01 565.25 147.46 564.07 147.94 562.85 148.46 561.59 149.02 560.28 149.63 558.93 150.27 557.52 150.94 556.07 151.65 554.58 152.39 553.06 153.16 551.50 153.95 549.93 154.75 548.35 155.56 546.77 156.36 545.20 157.16 543.64 157.95 542.12 158.72 540.63 159.46 539.18 160.17 537.77 160.84 536.42 161.48 535.11 162.09 533.85 162.65 532.63 163.17 531.45 163.65 530.31 164.10 529.19 164.50 528.08 164.87 526.99 165.21 525.88 165.51 524.76 165.79 523.61 166.04 522.43 166.27 521.19 166.48 519.91 166.67 518.58 166.85 517.22 167.00 515.84 167.14 514.46 167.27 513.14 167.38 511.89 167.47 510.77 167.54 509.81 167.60 509.04 167.64 508.47 167.67 508.10 167.69 507.89 167.70 507.81 167.70 507.80 167.70Z" fill="#FB8F74" fill-opacity="0.50" stroke="#808080" stroke-opacity="0.28" stroke-width="1.40"/>
<path d="M507.80 216.28 507.81 216.28 507.89 216.28 508.10 216.27 508.47 216.25 509.04 216.22 509.81 216.18 510.77 216.12 511.89 216.05 513.14 215.96 514.46 215.85 515.84 215.72 517.22 215.58 518.58 215.43 519.91 215.25 521.19 215.06 522.43 214.85 523.61 214.62 524.76 214.37 525.88 214.09 526.99 213.79 528.08 213.45 529.19 213.08 530.31 212.68 531.45 212.23 532.63 211.75 533.85 211.23 535.11 210.67 536.42 210.06 537.77 209.42 539.18 208.75 540.63 208.04 542.12 207.30 543.64 206.53 545.20 205.74 546.77 204.94 548.35 204.14 549.93 203.33 551.50 202.53 553.06 201.74 554.58 200.97 556.07 200.23 557.52 199.52 558.93 198.85 560.28 198.21 561.59 197.60 562.85 197.04 564.07 196.52 565.25 196.04 566.39 195.59 567.51 195.19 568.62 194.82 569.71 194.48 570.82 194.18 571.94 193.90 573.09 193.65 574.27 193.42 575.51 193.21 576.79 193.02 578.12 192.84 579.48 192.69 580.86 192.55 582.24 192.42 583.56 192.31 584.81 192.22 585.93 192.15 586.89 192.09 587.66 192.05 588.23 192.02 588.60 192.00 588.81 191.99 588.89 191.99 588.90 191.99 588.90 167.70 588.89 167.70 588.81 167.70 588.60 167.71 588.23 167.73 587.66 167.76 586.89 167.80 585.93 167.86 584.81 167.93 583.56 168.02 582.24 168.13 580.86 168.26 579.48 168.40 578.12 168.55 576.79 168.73 575.51 168.92 574.27 169.13 573.09 169.36 571.94 169.61 570.82 169.89 569.71 170.19 568.62 170.53 567.51 170.90 566.39 171.30 565.25 171.75 564.07 172.23 562.85 172.75 561.59 173.31 560.28 173.92 558.93 174.56 557.52 175.23 556.07 175.94 554.58 176.68 553.06 177.45 551.50 178.24 549.93 179.04 548.35 179.85 546.77 180.65 545.20 181.45 543.64 182.24 542.12 183.01 540.63 183.75 539.18 184.46 537.77 185.13 536.42 185.77 535.11 186.38 533.85 186.94 532.63 187.46 531.45 187.94 530.31 188.39 529.19 188.79 528.08 189.16 526.99 189.50 525.88 189.80 524.76 190.08 523.61 190.33 522.43 190.56 521.19 190.77 519.91 190.96 518.58 191.14 517.22 191.29 515.84 191.43 514.46 191.56 513.14 191.67 511.89 191.76 510.77 191.83 509.81 191.89 509.04 191.93 508.47 191.96 508.10 191.98 507.89 191.99 507.81 191.99 507.80 191.99Z" fill="#FB8F74" fill-opacity="0.50" stroke="#808080" stroke-opacity="0.28" stroke-width="1.40"/>
<path d="M507.80 240.57 507.81 240.57 507.89 240.57 508.10 240.56 508.47 240.54 509.04 240.51 509.81 240.47 510.77 240.41 511.89 240.34 513.14 240.25 514.46 240.14 515.84 240.01 517.22 239.87 518.58 239.72 519.91 239.54 521.19 239.35 522.43 239.14 523.61 238.91 524.76 238.66 525.88 238.38 526.99 238.08 528.08 237.74 529.19 237.37 530.31 236.97 531.45 236.52 532.63 236.04 533.85 235.52 535.11 234.96 536.42 234.35 537.77 233.71 539.18 233.04 540.63 232.33 542.12 231.59 543.64 230.82 545.20 230.03 546.77 229.23 548.35 228.43 549.93 227.62 551.50 226.82 553.06 226.03 554.58 225.26 556.07 224.52 557.52 223.81 558.93 223.14 560.28 222.50 561.59 221.89 562.85 221.33 564.07 220.81 565.25 220.33 566.39 219.88 567.51 219.48 568.62 219.11 569.71 218.77 570.82 218.47 571.94 218.19 573.09 217.94 574.27 217.71 575.51 217.50 576.79 217.31 578.12 217.13 579.48 216.98 580.86 216.84 582.24 216.71 583.56 216.60 584.81 216.51 585.93 216.44 586.89 216.38 587.66 216.34 588.23 216.31 588.60 216.29 588.81 216.28 588.89 216.28 588.90 216.28 588.90 191.99 588.89 191.99 588.81 191.99 588.60 192.00 588.23 192.02 587.66 192.05 586.89 192.09 585.93 192.15 584.81 192.22 583.56 192.31 582.24 192.42 580.86 192.55 579.48 192.69 578.12 192.84 576.79 193.02 575.51 193.21 574.27 193.42 573.09 193.65 571.94 193.90 570.82 194.18 569.71 194.48 568.62 194.82 567.51 195.19 566.39 195.59 565.25 196.04 564.07 196.52 562.85 197.04 561.59 197.60 560.28 198.21 558.93 198.85 557.52 199.52 556.07 200.23 554.58 200.97 553.06 201.74 551.50 202.53 549.93 203.33 548.35 204.14 546.77 204.94 545.20 205.74 543.64 206.53 542.12 207.30 540.63 208.04 539.18 208.75 537.77 209.42 536.42 210.06 535.11 210.67 533.85 211.23 532.63 211.75 531.45 212.23 530.31 212.68 529.19 213.08 528.08 213.45 526.99 213.79 525.88 214.09 524.76 214.37 523.61 214.62 522.43 214.85 521.19 215.06 519.91 215.25 518.58 215.43 517.22 215.58 515.84 215.72 514.46 215.85 513.14 215.96 511.89 216.05 510.77 216.12 509.81 216.18 509.04 216.22 508.47 216.25 508.10 216.27 507.89 216.28 507.81 216.28 507.80 216.28Z" fill="#FB8F74" fill-opacity="0.50" stroke="#808080" stroke-opacity="0.28" stroke-width="1.40"/>
<path d="M507.80 264.86 507.81 264.86 507.89 264.86 508.10 264.85 508.47 264.83 509.04 264.80 509.81 264.76 510.77 264.70 511.89 264.63 513.14 264.54 514.46 264.43 515.84 264.30 517.22 264.16 518.58 264.01 519.91 263.83 521.19 263.64 522.43 263.43 523.61 263.20 524.76 262.95 525.88 262.67 526.99 262.37 528.08 262.03 529.19 261.66 530.31 261.26 531.45 260.81 532.63 260.33 533.85 259.81 535.11 259.25 536.42 258.64 537.77 258.00 539.18 257.33 540.63 256.62 542.12 255.88 543.64 255.11 545.20 254.32 546.77 253.52 548.35 252.71 549.93 251.91 551.50 251.11 553.06 250.32 554.58 249.55 556.07 248.81 557.52 248.10 558.93 247.43 560.28 246.79 561.59 246.18 562.85 245.62 564.07 245.10 565.25 244.62 566.39 244.17 567.51 243.77 568.62 243.40 569.71 243.06 570.82 242.76 571.94 242.48 573.09 242.23 574.27 242.00 575.51 241.79 576.79 241.60 578.12 241.42 579.48 241.27 580.86 241.13 582.24 241.00 583.56 240.89 584.81 240.80 585.93 240.73 586.89 240.67 587.66 240.63 588.23 240.60 588.60 240.58 588.81 240.57 588.89 240.57 588.90 240.57 588.90 216.28 588.89 216.28 588.81 216.28 588.60 216.29 588.23 216.31 587.66 216.34 586.89 216.38 585.93 216.44 584.81 216.51 583.56 216.60 582.24 216.71 580.86 216.84 579.48 216.98 578.12 217.13 576.79 217.31 575.51 217.50 574.27 217.71 573.09 217.94 571.94 218.19 570.82 218.47 569.71 218.77 568.62 219.11 567.51 219.48 566.39 219.88 565.25 220.33 564.07 220.81 562.85 221.33 561.59 221.89 560.28 222.50 558.93 223.14 557.52 223.81 556.07 224.52 554.58 225.26 553.06 226.03 551.50 226.82 549.93 227.62 548.35 228.43 546.77 229.23 545.20 230.03 543.64 230.82 542.12 231.59 540.63 232.33 539.18 233.04 537.77 233.71 536.42 234.35 535.11 234.96 533.85 235.52 532.63 236.04 531.45 236.52 530.31 236.97 529.19 237.37 528.08 237.74 526.99 238.08 525.88 238.38 524.76 238.66 523.61 238.91 522.43 239.14 521.19 239.35 519.91 239.54 518.58 239.72 517.22 239.87 515.84 240.01 514.46 240.14 513.14 240.25 511.89 240.34 510.77 240.41 509.81 240.47 509.04 240.51 508.47 240.54 508.10 240.56 507.89 240.57 507.81 240.57 507.80 240.57Z" fill="#FB8F74" fill-opacity="0.50" stroke="#808080" stroke-opacity="0.28" stroke-width="1.40"/>
<path d="M507.80 289.15H588.90V264.86H507.80Z" fill="#FB8F74" fill-opacity="0.50" stroke="#808080" stroke-opacity="0.28" stroke-width="1.40"/>
<path d="M507.80 313.44H588.90V289.15H507.80Z" fill="#FB8F74" fill-opacity="0.50" stroke="#808080" stroke-opacity="0.28" stroke-width="1.40"/>
<path d="M507.80 337.73H588.90V313.44H507.80Z" fill="#FB8F74" fill-opacity="0.50" stroke="#808080" stroke-opacity="0.28" stroke-width="1.40"/>
<path d="M507.80 362.02H588.90V337.73H507.80Z" fill="#E5363A" fill-opacity="0.50" stroke="#808080" stroke-opacity="0.28" stroke-width="1.40"/>
<rect x="102.90" y="191.99" width="40.40" height="218.61" fill="#DE2D26" stroke="#000" stroke-width="1.50"/>
<rect x="102.90" y="119.12" width="40.40" height="72.87" fill="#FC9272" stroke="#000" stroke-width="1.50"/>
<rect x="102.90" y="21.96" width="40.40" height="97.16" fill="#FEE0D2" stroke="#000" stroke-width="1.50"/>
<rect x="224.40" y="313.44" width="40.40" height="97.16" fill="#DE2D26" stroke="#000" stroke-width="1.50"/>
<rect x="224.40" y="143.41" width="40.40" height="170.03" fill="#FC9272" stroke="#000" stroke-width="1.50"/>
<rect x="224.40" y="21.96" width="40.40" height="121.45" fill="#FEE0D2" stroke="#000" stroke-width="1.50"/>
<rect x="345.90" y="362.02" width="40.40" height="48.58" fill="#DE2D26" stroke="#000" stroke-width="1.50"/>
<rect x="345.90" y="143.41" width="40.40" height="218.61" fill="#FC9272" stroke="#000" stroke-width="1.50"/>
<rect x="345.90" y="21.96" width="40.40" height="121.45" fill="#FEE0D2" stroke="#000" stroke-width="1.50"/>
<rect x="467.40" y="362.02" width="40.40" height="48.58" fill="none" stroke="#000" stroke-width="1.50"/>
<rect x="467.40" y="337.73" width="40.40" height="24.29" fill="#DE2D26" stroke="#000" stroke-width="1.50"/>
<rect x="467.40" y="167.70" width="40.40" height="170.03" fill="#FC9272" stroke="#000" stroke-width="1.50"/>
<rect x="467.40" y="21.96" width="40.40" height="145.74" fill="#FEE0D2" stroke="#000" stroke-width="1.50"/>
<rect x="588.90" y="362.02" width="40.40" height="48.58" fill="none" stroke="#000" stroke-width="1.50"/>
<rect x="588.90" y="240.57" width="40.40" height="121.45" fill="#FC9272" stroke="#000" stroke-width="1.50"/>
<rect x="588.90" y="21.96" width="40.40" height="218.61" fill="#FEE0D2" stroke="#000" stroke-width="1.50"/>
<rect x="50.50" y="3.00" width="631.00" height="427.00" fill="none" stroke="#C0C0C0" stroke-width="1.2"/>
<path d="M46.1 410.60H50.5M46.1 289.15H50.5M46.1 167.70H50.5M46.1 46.25H50.5M123.10 430.0V434.4M244.60 430.0V434.4M366.10 430.0V434.4M487.60 430.0V434.4M609.10 430.0V434.4" stroke="#B3B3B3" stroke-width="0.9" fill="none"/>
<text x="42.6" y="416.00" font-size="14.2" fill="#4D4D4D" stroke="#4D4D4D" text-anchor="end">0</text>
<text x="42.6" y="294.55" font-size="14.2" fill="#4D4D4D" stroke="#4D4D4D" text-anchor="end">5</text>
<text x="42.6" y="173.10" font-size="14.2" fill="#4D4D4D" stroke="#4D4D4D" text-anchor="end">10</text>
<text x="42.6" y="51.65" font-size="14.2" fill="#4D4D4D" stroke="#4D4D4D" text-anchor="end">15</text>
<text x="123.10" y="449.3" font-size="14.2" fill="#4D4D4D" stroke="#4D4D4D" text-anchor="middle">0</text>
<text x="244.60" y="449.3" font-size="14.2" fill="#4D4D4D" stroke="#4D4D4D" text-anchor="middle">6</text>
<text x="366.10" y="449.3" font-size="14.2" fill="#4D4D4D" stroke="#4D4D4D" text-anchor="middle">12</text>
<text x="487.60" y="449.3" font-size="14.2" fill="#4D4D4D" stroke="#4D4D4D" text-anchor="middle">24</text>
<text x="609.10" y="449.3" font-size="14.2" fill="#4D4D4D" stroke="#4D4D4D" text-anchor="middle">36</text>
<text x="366" y="468.8" font-size="17.5" fill="#000" stroke="#000" text-anchor="middle">Time (months)</text>
<text transform="translate(17.4 216.5) rotate(-90)" font-size="17.5" fill="#000" stroke="#000" text-anchor="middle">Number of eyes</text>
<text x="155.6" y="519.2" font-size="17.62" fill="#000" stroke="#000">Vitreous Haze Scoring</text>
<rect x="341.10" y="500.4" width="25.3" height="25.0" fill="#FEE0D2" stroke="#000" stroke-width="1.5"/>
<text x="376.00" y="518.2" font-size="14.2" fill="#000" stroke="#000">0</text>
<rect x="394.70" y="500.4" width="25.3" height="25.0" fill="#FC9272" stroke="#000" stroke-width="1.5"/>
<text x="429.60" y="518.2" font-size="14.2" fill="#000" stroke="#000">0.5</text>
<rect x="460.20" y="500.4" width="25.3" height="25.0" fill="#DE2D26" stroke="#000" stroke-width="1.5"/>
<text x="494.30" y="518.2" font-size="14.2" fill="#000" stroke="#000">&gt;1</text>
<rect x="521.90" y="500.4" width="25.3" height="25.0" fill="#FFFFFF" stroke="#000" stroke-width="1.5"/>
<text x="557.00" y="518.2" font-size="14.2" fill="#000" stroke="#000">NA</text>
<path d="M26.3 49.8H30.0V53.3H26.3ZM31.6 49.8H34.6V53.3H31.6Z" fill="#fff"/>
<path d="M26.3 170.8H30.0V174.4H26.3ZM31.6 170.8H34.6V174.4H31.6Z" fill="#fff"/>
<path d="M358.3 446.9H361.3V449.9H358.3ZM363.1 446.9H365.2V449.9H363.1Z" fill="#fff"/>
<path d="M502.3 516.1H505.8V518.9H502.3ZM507.6 516.1H510.6V518.9H507.6Z" fill="#fff"/>
</svg></body></html>
